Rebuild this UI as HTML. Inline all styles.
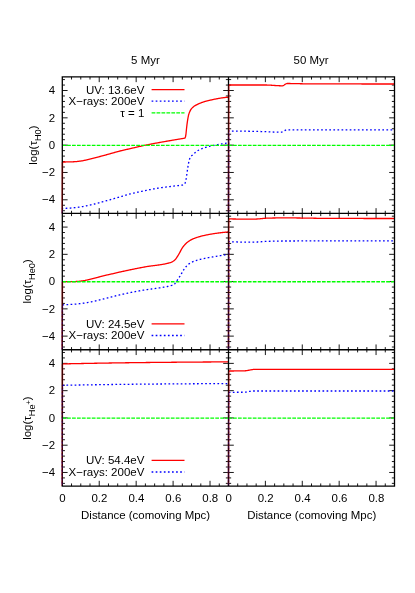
<!DOCTYPE html>
<html><head><meta charset="utf-8"><title>Optical depth</title>
<style>html,body{margin:0;padding:0;background:#fff}body{width:415px;height:593px;overflow:hidden;font-family:"Liberation Sans",sans-serif}</style>
</head><body>
<svg width="415" height="593" viewBox="0 0 415 593" style="display:block;font-family:'Liberation Sans',sans-serif;font-size:11.45px" fill="#000">
<rect width="415" height="593" fill="#fff"/>
<path d="M71.53 213.45v-2.65M71.53 76.85v2.65M80.77 213.45v-2.65M80.77 76.85v2.65M90.00 213.45v-2.65M90.00 76.85v2.65M99.23 213.45v-5.3M99.23 76.85v5.3M108.47 213.45v-2.65M108.47 76.85v2.65M117.70 213.45v-2.65M117.70 76.85v2.65M126.93 213.45v-2.65M126.93 76.85v2.65M136.17 213.45v-5.3M136.17 76.85v5.3M145.40 213.45v-2.65M145.40 76.85v2.65M154.63 213.45v-2.65M154.63 76.85v2.65M163.87 213.45v-2.65M163.87 76.85v2.65M173.10 213.45v-5.3M173.10 76.85v5.3M182.33 213.45v-2.65M182.33 76.85v2.65M191.57 213.45v-2.65M191.57 76.85v2.65M200.80 213.45v-2.65M200.80 76.85v2.65M210.03 213.45v-5.3M210.03 76.85v5.3M219.27 213.45v-2.65M219.27 76.85v2.65M62.30 210.72h2.65M228.50 210.72h-2.65M62.30 205.25h2.65M228.50 205.25h-2.65M62.30 199.79h5.3M228.50 199.79h-5.3M62.30 194.33h2.65M228.50 194.33h-2.65M62.30 188.86h2.65M228.50 188.86h-2.65M62.30 183.40h2.65M228.50 183.40h-2.65M62.30 177.93h2.65M228.50 177.93h-2.65M62.30 172.47h5.3M228.50 172.47h-5.3M62.30 167.01h2.65M228.50 167.01h-2.65M62.30 161.54h2.65M228.50 161.54h-2.65M62.30 156.08h2.65M228.50 156.08h-2.65M62.30 150.61h2.65M228.50 150.61h-2.65M62.30 145.15h5.3M228.50 145.15h-5.3M62.30 139.69h2.65M228.50 139.69h-2.65M62.30 134.22h2.65M228.50 134.22h-2.65M62.30 128.76h2.65M228.50 128.76h-2.65M62.30 123.29h2.65M228.50 123.29h-2.65M62.30 117.83h5.3M228.50 117.83h-5.3M62.30 112.37h2.65M228.50 112.37h-2.65M62.30 106.90h2.65M228.50 106.90h-2.65M62.30 101.44h2.65M228.50 101.44h-2.65M62.30 95.97h2.65M228.50 95.97h-2.65M62.30 90.51h5.3M228.50 90.51h-5.3M62.30 85.05h2.65M228.50 85.05h-2.65M62.30 79.58h2.65M228.50 79.58h-2.65M237.72 213.45v-2.65M237.72 76.85v2.65M246.94 213.45v-2.65M246.94 76.85v2.65M256.17 213.45v-2.65M256.17 76.85v2.65M265.39 213.45v-5.3M265.39 76.85v5.3M274.61 213.45v-2.65M274.61 76.85v2.65M283.83 213.45v-2.65M283.83 76.85v2.65M293.06 213.45v-2.65M293.06 76.85v2.65M302.28 213.45v-5.3M302.28 76.85v5.3M311.50 213.45v-2.65M311.50 76.85v2.65M320.72 213.45v-2.65M320.72 76.85v2.65M329.94 213.45v-2.65M329.94 76.85v2.65M339.17 213.45v-5.3M339.17 76.85v5.3M348.39 213.45v-2.65M348.39 76.85v2.65M357.61 213.45v-2.65M357.61 76.85v2.65M366.83 213.45v-2.65M366.83 76.85v2.65M376.06 213.45v-5.3M376.06 76.85v5.3M385.28 213.45v-2.65M385.28 76.85v2.65M228.50 210.72h2.65M394.50 210.72h-2.65M228.50 205.25h2.65M394.50 205.25h-2.65M228.50 199.79h5.3M394.50 199.79h-5.3M228.50 194.33h2.65M394.50 194.33h-2.65M228.50 188.86h2.65M394.50 188.86h-2.65M228.50 183.40h2.65M394.50 183.40h-2.65M228.50 177.93h2.65M394.50 177.93h-2.65M228.50 172.47h5.3M394.50 172.47h-5.3M228.50 167.01h2.65M394.50 167.01h-2.65M228.50 161.54h2.65M394.50 161.54h-2.65M228.50 156.08h2.65M394.50 156.08h-2.65M228.50 150.61h2.65M394.50 150.61h-2.65M228.50 145.15h5.3M394.50 145.15h-5.3M228.50 139.69h2.65M394.50 139.69h-2.65M228.50 134.22h2.65M394.50 134.22h-2.65M228.50 128.76h2.65M394.50 128.76h-2.65M228.50 123.29h2.65M394.50 123.29h-2.65M228.50 117.83h5.3M394.50 117.83h-5.3M228.50 112.37h2.65M394.50 112.37h-2.65M228.50 106.90h2.65M394.50 106.90h-2.65M228.50 101.44h2.65M394.50 101.44h-2.65M228.50 95.97h2.65M394.50 95.97h-2.65M228.50 90.51h5.3M394.50 90.51h-5.3M228.50 85.05h2.65M394.50 85.05h-2.65M228.50 79.58h2.65M394.50 79.58h-2.65M71.53 349.75v-2.65M71.53 213.45v2.65M80.77 349.75v-2.65M80.77 213.45v2.65M90.00 349.75v-2.65M90.00 213.45v2.65M99.23 349.75v-5.3M99.23 213.45v5.3M108.47 349.75v-2.65M108.47 213.45v2.65M117.70 349.75v-2.65M117.70 213.45v2.65M126.93 349.75v-2.65M126.93 213.45v2.65M136.17 349.75v-5.3M136.17 213.45v5.3M145.40 349.75v-2.65M145.40 213.45v2.65M154.63 349.75v-2.65M154.63 213.45v2.65M163.87 349.75v-2.65M163.87 213.45v2.65M173.10 349.75v-5.3M173.10 213.45v5.3M182.33 349.75v-2.65M182.33 213.45v2.65M191.57 349.75v-2.65M191.57 213.45v2.65M200.80 349.75v-2.65M200.80 213.45v2.65M210.03 349.75v-5.3M210.03 213.45v5.3M219.27 349.75v-2.65M219.27 213.45v2.65M62.30 347.02h2.65M228.50 347.02h-2.65M62.30 341.57h2.65M228.50 341.57h-2.65M62.30 336.12h5.3M228.50 336.12h-5.3M62.30 330.67h2.65M228.50 330.67h-2.65M62.30 325.22h2.65M228.50 325.22h-2.65M62.30 319.76h2.65M228.50 319.76h-2.65M62.30 314.31h2.65M228.50 314.31h-2.65M62.30 308.86h5.3M228.50 308.86h-5.3M62.30 303.41h2.65M228.50 303.41h-2.65M62.30 297.96h2.65M228.50 297.96h-2.65M62.30 292.50h2.65M228.50 292.50h-2.65M62.30 287.05h2.65M228.50 287.05h-2.65M62.30 281.60h5.3M228.50 281.60h-5.3M62.30 276.15h2.65M228.50 276.15h-2.65M62.30 270.70h2.65M228.50 270.70h-2.65M62.30 265.24h2.65M228.50 265.24h-2.65M62.30 259.79h2.65M228.50 259.79h-2.65M62.30 254.34h5.3M228.50 254.34h-5.3M62.30 248.89h2.65M228.50 248.89h-2.65M62.30 243.44h2.65M228.50 243.44h-2.65M62.30 237.98h2.65M228.50 237.98h-2.65M62.30 232.53h2.65M228.50 232.53h-2.65M62.30 227.08h5.3M228.50 227.08h-5.3M62.30 221.63h2.65M228.50 221.63h-2.65M62.30 216.18h2.65M228.50 216.18h-2.65M237.72 349.75v-2.65M237.72 213.45v2.65M246.94 349.75v-2.65M246.94 213.45v2.65M256.17 349.75v-2.65M256.17 213.45v2.65M265.39 349.75v-5.3M265.39 213.45v5.3M274.61 349.75v-2.65M274.61 213.45v2.65M283.83 349.75v-2.65M283.83 213.45v2.65M293.06 349.75v-2.65M293.06 213.45v2.65M302.28 349.75v-5.3M302.28 213.45v5.3M311.50 349.75v-2.65M311.50 213.45v2.65M320.72 349.75v-2.65M320.72 213.45v2.65M329.94 349.75v-2.65M329.94 213.45v2.65M339.17 349.75v-5.3M339.17 213.45v5.3M348.39 349.75v-2.65M348.39 213.45v2.65M357.61 349.75v-2.65M357.61 213.45v2.65M366.83 349.75v-2.65M366.83 213.45v2.65M376.06 349.75v-5.3M376.06 213.45v5.3M385.28 349.75v-2.65M385.28 213.45v2.65M228.50 347.02h2.65M394.50 347.02h-2.65M228.50 341.57h2.65M394.50 341.57h-2.65M228.50 336.12h5.3M394.50 336.12h-5.3M228.50 330.67h2.65M394.50 330.67h-2.65M228.50 325.22h2.65M394.50 325.22h-2.65M228.50 319.76h2.65M394.50 319.76h-2.65M228.50 314.31h2.65M394.50 314.31h-2.65M228.50 308.86h5.3M394.50 308.86h-5.3M228.50 303.41h2.65M394.50 303.41h-2.65M228.50 297.96h2.65M394.50 297.96h-2.65M228.50 292.50h2.65M394.50 292.50h-2.65M228.50 287.05h2.65M394.50 287.05h-2.65M228.50 281.60h5.3M394.50 281.60h-5.3M228.50 276.15h2.65M394.50 276.15h-2.65M228.50 270.70h2.65M394.50 270.70h-2.65M228.50 265.24h2.65M394.50 265.24h-2.65M228.50 259.79h2.65M394.50 259.79h-2.65M228.50 254.34h5.3M394.50 254.34h-5.3M228.50 248.89h2.65M394.50 248.89h-2.65M228.50 243.44h2.65M394.50 243.44h-2.65M228.50 237.98h2.65M394.50 237.98h-2.65M228.50 232.53h2.65M394.50 232.53h-2.65M228.50 227.08h5.3M394.50 227.08h-5.3M228.50 221.63h2.65M394.50 221.63h-2.65M228.50 216.18h2.65M394.50 216.18h-2.65M71.53 486.10v-2.65M71.53 349.75v2.65M80.77 486.10v-2.65M80.77 349.75v2.65M90.00 486.10v-2.65M90.00 349.75v2.65M99.23 486.10v-5.3M99.23 349.75v5.3M108.47 486.10v-2.65M108.47 349.75v2.65M117.70 486.10v-2.65M117.70 349.75v2.65M126.93 486.10v-2.65M126.93 349.75v2.65M136.17 486.10v-5.3M136.17 349.75v5.3M145.40 486.10v-2.65M145.40 349.75v2.65M154.63 486.10v-2.65M154.63 349.75v2.65M163.87 486.10v-2.65M163.87 349.75v2.65M173.10 486.10v-5.3M173.10 349.75v5.3M182.33 486.10v-2.65M182.33 349.75v2.65M191.57 486.10v-2.65M191.57 349.75v2.65M200.80 486.10v-2.65M200.80 349.75v2.65M210.03 486.10v-5.3M210.03 349.75v5.3M219.27 486.10v-2.65M219.27 349.75v2.65M62.30 483.37h2.65M228.50 483.37h-2.65M62.30 477.92h2.65M228.50 477.92h-2.65M62.30 472.47h5.3M228.50 472.47h-5.3M62.30 467.01h2.65M228.50 467.01h-2.65M62.30 461.56h2.65M228.50 461.56h-2.65M62.30 456.10h2.65M228.50 456.10h-2.65M62.30 450.65h2.65M228.50 450.65h-2.65M62.30 445.19h5.3M228.50 445.19h-5.3M62.30 439.74h2.65M228.50 439.74h-2.65M62.30 434.29h2.65M228.50 434.29h-2.65M62.30 428.83h2.65M228.50 428.83h-2.65M62.30 423.38h2.65M228.50 423.38h-2.65M62.30 417.93h5.3M228.50 417.93h-5.3M62.30 412.47h2.65M228.50 412.47h-2.65M62.30 407.02h2.65M228.50 407.02h-2.65M62.30 401.56h2.65M228.50 401.56h-2.65M62.30 396.11h2.65M228.50 396.11h-2.65M62.30 390.66h5.3M228.50 390.66h-5.3M62.30 385.20h2.65M228.50 385.20h-2.65M62.30 379.75h2.65M228.50 379.75h-2.65M62.30 374.29h2.65M228.50 374.29h-2.65M62.30 368.84h2.65M228.50 368.84h-2.65M62.30 363.38h5.3M228.50 363.38h-5.3M62.30 357.93h2.65M228.50 357.93h-2.65M62.30 352.48h2.65M228.50 352.48h-2.65M237.72 486.10v-2.65M237.72 349.75v2.65M246.94 486.10v-2.65M246.94 349.75v2.65M256.17 486.10v-2.65M256.17 349.75v2.65M265.39 486.10v-5.3M265.39 349.75v5.3M274.61 486.10v-2.65M274.61 349.75v2.65M283.83 486.10v-2.65M283.83 349.75v2.65M293.06 486.10v-2.65M293.06 349.75v2.65M302.28 486.10v-5.3M302.28 349.75v5.3M311.50 486.10v-2.65M311.50 349.75v2.65M320.72 486.10v-2.65M320.72 349.75v2.65M329.94 486.10v-2.65M329.94 349.75v2.65M339.17 486.10v-5.3M339.17 349.75v5.3M348.39 486.10v-2.65M348.39 349.75v2.65M357.61 486.10v-2.65M357.61 349.75v2.65M366.83 486.10v-2.65M366.83 349.75v2.65M376.06 486.10v-5.3M376.06 349.75v5.3M385.28 486.10v-2.65M385.28 349.75v2.65M228.50 483.37h2.65M394.50 483.37h-2.65M228.50 477.92h2.65M394.50 477.92h-2.65M228.50 472.47h5.3M394.50 472.47h-5.3M228.50 467.01h2.65M394.50 467.01h-2.65M228.50 461.56h2.65M394.50 461.56h-2.65M228.50 456.10h2.65M394.50 456.10h-2.65M228.50 450.65h2.65M394.50 450.65h-2.65M228.50 445.19h5.3M394.50 445.19h-5.3M228.50 439.74h2.65M394.50 439.74h-2.65M228.50 434.29h2.65M394.50 434.29h-2.65M228.50 428.83h2.65M394.50 428.83h-2.65M228.50 423.38h2.65M394.50 423.38h-2.65M228.50 417.93h5.3M394.50 417.93h-5.3M228.50 412.47h2.65M394.50 412.47h-2.65M228.50 407.02h2.65M394.50 407.02h-2.65M228.50 401.56h2.65M394.50 401.56h-2.65M228.50 396.11h2.65M394.50 396.11h-2.65M228.50 390.66h5.3M394.50 390.66h-5.3M228.50 385.20h2.65M394.50 385.20h-2.65M228.50 379.75h2.65M394.50 379.75h-2.65M228.50 374.29h2.65M394.50 374.29h-2.65M228.50 368.84h2.65M394.50 368.84h-2.65M228.50 363.38h5.3M394.50 363.38h-5.3M228.50 357.93h2.65M394.50 357.93h-2.65M228.50 352.48h2.65M394.50 352.48h-2.65" fill="none" stroke="#000" stroke-width="0.9"/>
<path d="M62.30 213.45L62.50 208.40 63.00 208.39 63.50 208.38 64.00 208.37 64.50 208.35 65.00 208.33 65.50 208.31 66.00 208.29 66.50 208.27 67.00 208.25 67.50 208.22 68.00 208.20 68.50 208.17 69.00 208.14 69.50 208.11 70.00 208.08 70.50 208.04 71.00 208.00 71.50 207.96 72.00 207.92 72.50 207.87 73.00 207.83 73.50 207.78 74.00 207.73 74.50 207.68 75.00 207.63 75.50 207.57 76.00 207.52 76.50 207.46 77.00 207.40 77.50 207.34 78.00 207.27 78.50 207.20 79.00 207.13 79.50 207.06 80.00 206.99 80.50 206.91 81.00 206.84 81.50 206.76 82.00 206.68 82.50 206.60 83.00 206.52 83.50 206.43 84.00 206.33 84.50 206.24 85.00 206.14 85.50 206.04 86.00 205.93 86.50 205.82 87.00 205.71 87.50 205.60 88.00 205.49 88.50 205.38 89.00 205.27 89.50 205.16 90.00 205.04 90.50 204.93 91.00 204.82 91.50 204.71 92.00 204.60 92.50 204.48 93.00 204.36 93.50 204.24 94.00 204.12 94.50 204.00 95.00 203.88 95.50 203.75 96.00 203.62 96.50 203.49 97.00 203.36 97.50 203.22 98.00 203.09 98.50 202.95 99.00 202.82 99.50 202.68 100.00 202.54 100.50 202.40 101.00 202.27 101.50 202.13 102.00 201.99 102.50 201.85 103.00 201.71 103.50 201.57 104.00 201.43 104.50 201.30 105.00 201.16 105.50 201.02 106.00 200.88 106.50 200.74 107.00 200.60 107.50 200.46 108.00 200.32 108.50 200.18 109.00 200.04 109.50 199.90 110.00 199.76 110.50 199.62 111.00 199.48 111.50 199.34 112.00 199.19 112.50 199.05 113.00 198.91 113.50 198.77 114.00 198.62 114.50 198.48 115.00 198.34 115.50 198.20 116.00 198.05 116.50 197.91 117.00 197.77 117.50 197.62 118.00 197.48 118.50 197.33 119.00 197.19 119.50 197.04 120.00 196.90 120.50 196.75 121.00 196.61 121.50 196.46 122.00 196.30 122.50 196.15 123.00 196.00 123.50 195.84 124.00 195.69 124.50 195.54 125.00 195.38 125.50 195.23 126.00 195.08 126.50 194.93 127.00 194.79 127.50 194.64 128.00 194.50 128.50 194.36 129.00 194.23 129.50 194.10 130.00 193.97 130.50 193.85 131.00 193.72 131.50 193.60 132.00 193.48 132.50 193.36 133.00 193.24 133.50 193.13 134.00 193.01 134.50 192.90 135.00 192.79 135.50 192.68 136.00 192.56 136.50 192.46 137.00 192.35 137.50 192.24 138.00 192.13 138.50 192.02 139.00 191.92 139.50 191.81 140.00 191.71 140.50 191.60 141.00 191.50 141.50 191.40 142.00 191.29 142.50 191.19 143.00 191.09 143.50 190.98 144.00 190.88 144.50 190.78 145.00 190.67 145.50 190.57 146.00 190.46 146.50 190.36 147.00 190.26 147.50 190.15 148.00 190.05 148.50 189.95 149.00 189.85 149.50 189.74 150.00 189.64 150.50 189.54 151.00 189.44 151.50 189.34 152.00 189.24 152.50 189.15 153.00 189.05 153.50 188.96 154.00 188.86 154.50 188.77 155.00 188.68 155.50 188.59 156.00 188.50 156.50 188.41 157.00 188.33 157.50 188.25 158.00 188.16 158.50 188.08 159.00 188.01 159.50 187.93 160.00 187.86 160.50 187.78 161.00 187.71 161.50 187.64 162.00 187.57 162.50 187.50 163.00 187.43 163.50 187.37 164.00 187.30 164.50 187.24 165.00 187.17 165.50 187.11 166.00 187.05 166.50 186.98 167.00 186.92 167.50 186.86 168.00 186.80 168.50 186.74 169.00 186.67 169.50 186.61 170.00 186.55 170.50 186.49 171.00 186.42 171.50 186.36 172.00 186.30 172.50 186.23 173.00 186.17 173.50 186.10 174.00 186.04 174.50 185.97 175.00 185.90 175.50 185.84 176.00 185.78 176.50 185.73 177.00 185.69 177.50 185.64 178.00 185.60 178.50 185.56 179.00 185.52 179.50 185.48 180.00 185.43 180.50 185.37 181.00 185.30 181.50 185.23 182.00 185.14 182.50 185.04 183.00 184.92 183.50 184.79 184.00 184.63 184.50 184.27 185.00 183.38 185.50 182.10 186.00 180.13 186.50 176.59 187.00 173.05 187.50 169.62 188.00 166.27 188.50 163.50 189.00 161.25 189.50 159.32 190.00 158.00 190.50 157.16 191.00 156.47 191.50 155.90 192.00 155.40 192.50 154.96 193.00 154.54 193.50 154.10 194.00 153.65 194.50 153.21 195.00 152.78 195.50 152.37 196.00 151.97 196.50 151.59 197.00 151.22 197.50 150.88 198.00 150.56 198.50 150.27 199.00 150.00 199.50 149.75 200.00 149.51 200.50 149.28 201.00 149.06 201.50 148.85 202.00 148.64 202.50 148.44 203.00 148.26 203.50 148.07 204.00 147.90 204.50 147.73 205.00 147.57 205.50 147.41 206.00 147.26 206.50 147.11 207.00 146.97 207.50 146.83 208.00 146.69 208.50 146.56 209.00 146.44 209.50 146.32 210.00 146.20 210.50 146.09 211.00 145.98 211.50 145.87 212.00 145.77 212.50 145.67 213.00 145.57 213.50 145.47 214.00 145.37 214.50 145.28 215.00 145.18 215.50 145.09 216.00 144.99 216.50 144.90 217.00 144.80 217.50 144.70 218.00 144.61 218.50 144.51 219.00 144.42 219.50 144.33 220.00 144.24 220.50 144.14 221.00 144.05 221.50 143.96 222.00 143.88 222.50 143.79 223.00 143.70 223.50 143.61 224.00 143.53 224.50 143.44 225.00 143.36 225.50 143.28 226.00 143.19 226.50 143.11 227.00 143.03 227.50 142.95 228.00 142.88 228.50 142.80" stroke="#0000ff" stroke-width="1.3" fill="none" stroke-linejoin="round" stroke-dasharray="1.7 2.38"/>
<path d="M62.30 213.45L62.50 162.00 63.00 162.00 63.50 162.00 64.00 161.99 64.50 161.99 65.00 161.99 65.50 161.98 66.00 161.97 66.50 161.97 67.00 161.96 67.50 161.95 68.00 161.94 68.50 161.93 69.00 161.92 69.50 161.91 70.00 161.90 70.50 161.89 71.00 161.87 71.50 161.85 72.00 161.83 72.50 161.81 73.00 161.79 73.50 161.76 74.00 161.73 74.50 161.70 75.00 161.67 75.50 161.63 76.00 161.59 76.50 161.54 77.00 161.50 77.50 161.44 78.00 161.39 78.50 161.33 79.00 161.27 79.50 161.21 80.00 161.14 80.50 161.07 81.00 161.00 81.50 160.93 82.00 160.85 82.50 160.77 83.00 160.68 83.50 160.58 84.00 160.47 84.50 160.36 85.00 160.25 85.50 160.13 86.00 160.01 86.50 159.89 87.00 159.76 87.50 159.64 88.00 159.52 88.50 159.40 89.00 159.28 89.50 159.16 90.00 159.04 90.50 158.92 91.00 158.79 91.50 158.67 92.00 158.54 92.50 158.42 93.00 158.29 93.50 158.16 94.00 158.04 94.50 157.91 95.00 157.78 95.50 157.65 96.00 157.53 96.50 157.40 97.00 157.27 97.50 157.14 98.00 157.01 98.50 156.89 99.00 156.76 99.50 156.63 100.00 156.50 100.50 156.37 101.00 156.24 101.50 156.11 102.00 155.97 102.50 155.84 103.00 155.71 103.50 155.57 104.00 155.44 104.50 155.30 105.00 155.16 105.50 155.03 106.00 154.89 106.50 154.75 107.00 154.61 107.50 154.47 108.00 154.33 108.50 154.19 109.00 154.05 109.50 153.91 110.00 153.77 110.50 153.63 111.00 153.49 111.50 153.35 112.00 153.21 112.50 153.07 113.00 152.92 113.50 152.78 114.00 152.64 114.50 152.50 115.00 152.36 115.50 152.21 116.00 152.07 116.50 151.93 117.00 151.80 117.50 151.66 118.00 151.52 118.50 151.39 119.00 151.26 119.50 151.13 120.00 151.00 120.50 150.87 121.00 150.75 121.50 150.63 122.00 150.51 122.50 150.39 123.00 150.27 123.50 150.16 124.00 150.04 124.50 149.93 125.00 149.82 125.50 149.70 126.00 149.59 126.50 149.48 127.00 149.37 127.50 149.25 128.00 149.14 128.50 149.03 129.00 148.91 129.50 148.80 130.00 148.69 130.50 148.57 131.00 148.45 131.50 148.34 132.00 148.22 132.50 148.11 133.00 147.99 133.50 147.87 134.00 147.76 134.50 147.64 135.00 147.52 135.50 147.41 136.00 147.29 136.50 147.18 137.00 147.06 137.50 146.95 138.00 146.83 138.50 146.72 139.00 146.60 139.50 146.49 140.00 146.37 140.50 146.26 141.00 146.15 141.50 146.04 142.00 145.93 142.50 145.82 143.00 145.71 143.50 145.60 144.00 145.49 144.50 145.39 145.00 145.28 145.50 145.18 146.00 145.08 146.50 144.97 147.00 144.87 147.50 144.77 148.00 144.67 148.50 144.57 149.00 144.47 149.50 144.37 150.00 144.28 150.50 144.18 151.00 144.08 151.50 143.99 152.00 143.89 152.50 143.80 153.00 143.70 153.50 143.61 154.00 143.51 154.50 143.42 155.00 143.33 155.50 143.23 156.00 143.14 156.50 143.05 157.00 142.96 157.50 142.87 158.00 142.77 158.50 142.68 159.00 142.59 159.50 142.50 160.00 142.41 160.50 142.32 161.00 142.23 161.50 142.14 162.00 142.05 162.50 141.96 163.00 141.87 163.50 141.78 164.00 141.70 164.50 141.61 165.00 141.52 165.50 141.43 166.00 141.35 166.50 141.26 167.00 141.17 167.50 141.09 168.00 141.00 168.50 140.92 169.00 140.83 169.50 140.74 170.00 140.66 170.50 140.57 171.00 140.49 171.50 140.40 172.00 140.32 172.50 140.23 173.00 140.14 173.50 140.06 174.00 139.97 174.50 139.89 175.00 139.80 175.50 139.71 176.00 139.63 176.50 139.54 177.00 139.46 177.50 139.37 178.00 139.29 178.50 139.20 179.00 139.12 179.50 139.03 180.00 138.95 180.50 138.86 181.00 138.78 181.50 138.69 182.00 138.61 182.50 138.52 183.00 138.44 183.50 138.35 184.00 138.27 184.50 138.18 185.00 138.10L185.50 136.87 186.00 133.79 186.50 128.69 187.00 124.40 187.50 120.94 188.00 117.81 188.50 115.29 189.00 113.61 189.50 112.28 190.00 111.14 190.50 110.16 191.00 109.34 191.50 108.66 192.00 108.10 192.50 107.60 193.00 107.15 193.50 106.73 194.00 106.34 194.50 105.99 195.00 105.66 195.50 105.36 196.00 105.08 196.50 104.81 197.00 104.56 197.50 104.32 198.00 104.09 198.50 103.87 199.00 103.65 199.50 103.43 200.00 103.23 200.50 103.03 201.00 102.83 201.50 102.65 202.00 102.47 202.50 102.29 203.00 102.12 203.50 101.95 204.00 101.79 204.50 101.64 205.00 101.49 205.50 101.34 206.00 101.20 206.50 101.07 207.00 100.93 207.50 100.81 208.00 100.68 208.50 100.56 209.00 100.45 209.50 100.33 210.00 100.22 210.50 100.11 211.00 100.00 211.50 99.88 212.00 99.78 212.50 99.67 213.00 99.56 213.50 99.45 214.00 99.35 214.50 99.24 215.00 99.14 215.50 99.04 216.00 98.94 216.50 98.84 217.00 98.74 217.50 98.65 218.00 98.56 218.50 98.47 219.00 98.38 219.50 98.29 220.00 98.21 220.50 98.13 221.00 98.05 221.50 97.97 222.00 97.89 222.50 97.82 223.00 97.75 223.50 97.69 224.00 97.62 224.50 97.56 225.00 97.51 225.50 97.45 226.00 97.40 226.50 97.35 227.00 97.31 227.50 97.27 228.00 97.23 228.50 97.20" stroke="#ff0000" stroke-width="1.3" fill="none" stroke-linejoin="round"/>
<path d="M228.50 213.45L228.70 131.00 229.20 131.00 229.70 131.01 230.20 131.01 230.70 131.01 231.20 131.02 231.70 131.02 232.20 131.03 232.70 131.03 233.20 131.03 233.70 131.04 234.20 131.04 234.70 131.05 235.20 131.05 235.70 131.06 236.20 131.07 236.70 131.07 237.20 131.08 237.70 131.08 238.20 131.09 238.70 131.10 239.20 131.11 239.70 131.11 240.20 131.12 240.70 131.13 241.20 131.13 241.70 131.14 242.20 131.15 242.70 131.16 243.20 131.17 243.70 131.17 244.20 131.18 244.70 131.19 245.20 131.20 245.70 131.21 246.20 131.22 246.70 131.23 247.20 131.24 247.70 131.25 248.20 131.25 248.70 131.26 249.20 131.27 249.70 131.28 250.20 131.29 250.70 131.30 251.20 131.31 251.70 131.32 252.20 131.33 252.70 131.34 253.20 131.35 253.70 131.36 254.20 131.37 254.70 131.39 255.20 131.40 255.70 131.41 256.20 131.42 256.70 131.43 257.20 131.44 257.70 131.45 258.20 131.46 258.70 131.47 259.20 131.48 259.70 131.49 260.20 131.50 260.70 131.52 261.20 131.53 261.70 131.54 262.20 131.56 262.70 131.58 263.20 131.59 263.70 131.61 264.20 131.63 264.70 131.65 265.20 131.67 265.70 131.69 266.20 131.72 266.70 131.74 267.20 131.76 267.70 131.78 268.20 131.80 268.70 131.83 269.20 131.85 269.70 131.87 270.20 131.89 270.70 131.92 271.20 131.94 271.70 131.96 272.20 131.98 272.70 132.00 273.20 132.02 273.70 132.04 274.20 132.06 274.70 132.08 275.20 132.09 275.70 132.11 276.20 132.13 276.70 132.14 277.20 132.15 277.70 132.16 278.20 132.17 278.70 132.18 279.20 132.19 279.70 132.19 280.20 132.20 280.70 132.20 281.20 132.19 281.70 132.11 282.20 131.95 282.70 131.73 283.20 131.47 283.70 131.18 284.20 130.88 284.70 130.59 285.20 130.32 285.70 130.09 286.20 129.92 286.70 129.82 287.20 129.80 287.70 129.80 288.20 129.80 288.70 129.80 289.20 129.80 289.70 129.80 290.20 129.80 290.70 129.80 291.20 129.80 291.70 129.80 292.20 129.80 292.70 129.80 293.20 129.80 293.70 129.80 294.20 129.80 294.70 129.80 295.20 129.80 295.70 129.80 296.20 129.80 296.70 129.80 297.20 129.80 297.70 129.80 298.20 129.80 298.70 129.80 299.20 129.80 299.70 129.80 300.20 129.80 300.70 129.80 301.20 129.80 301.70 129.80 302.20 129.80 302.70 129.80 303.20 129.80 303.70 129.80 304.20 129.80 304.70 129.80 305.20 129.80 305.70 129.80 306.20 129.80 306.70 129.80 307.20 129.80 307.70 129.80 308.20 129.80 308.70 129.80 309.20 129.80 309.70 129.80 310.20 129.80 310.70 129.80 311.20 129.80 311.70 129.80 312.20 129.80 312.70 129.80 313.20 129.80 313.70 129.80 314.20 129.80 314.70 129.80 315.20 129.80 315.70 129.80 316.20 129.80 316.70 129.80 317.20 129.80 317.70 129.80 318.20 129.80 318.70 129.80 319.20 129.80 319.70 129.80 320.20 129.80 320.70 129.80 321.20 129.80 321.70 129.80 322.20 129.80 322.70 129.80 323.20 129.80 323.70 129.80 324.20 129.80 324.70 129.80 325.20 129.80 325.70 129.80 326.20 129.80 326.70 129.81 327.20 129.81 327.70 129.81 328.20 129.81 328.70 129.81 329.20 129.81 329.70 129.81 330.20 129.81 330.70 129.81 331.20 129.81 331.70 129.81 332.20 129.81 332.70 129.81 333.20 129.81 333.70 129.81 334.20 129.81 334.70 129.81 335.20 129.81 335.70 129.81 336.20 129.81 336.70 129.81 337.20 129.81 337.70 129.81 338.20 129.81 338.70 129.81 339.20 129.81 339.70 129.81 340.20 129.81 340.70 129.81 341.20 129.81 341.70 129.81 342.20 129.81 342.70 129.81 343.20 129.81 343.70 129.81 344.20 129.82 344.70 129.82 345.20 129.82 345.70 129.82 346.20 129.82 346.70 129.82 347.20 129.82 347.70 129.82 348.20 129.82 348.70 129.82 349.20 129.82 349.70 129.82 350.20 129.82 350.70 129.82 351.20 129.82 351.70 129.82 352.20 129.82 352.70 129.82 353.20 129.82 353.70 129.82 354.20 129.82 354.70 129.82 355.20 129.83 355.70 129.83 356.20 129.83 356.70 129.83 357.20 129.83 357.70 129.83 358.20 129.83 358.70 129.83 359.20 129.83 359.70 129.83 360.20 129.83 360.70 129.83 361.20 129.83 361.70 129.83 362.20 129.83 362.70 129.83 363.20 129.84 363.70 129.84 364.20 129.84 364.70 129.84 365.20 129.84 365.70 129.84 366.20 129.84 366.70 129.84 367.20 129.84 367.70 129.84 368.20 129.84 368.70 129.84 369.20 129.84 369.70 129.85 370.20 129.85 370.70 129.85 371.20 129.85 371.70 129.85 372.20 129.85 372.70 129.85 373.20 129.85 373.70 129.85 374.20 129.85 374.70 129.85 375.20 129.86 375.70 129.86 376.20 129.86 376.70 129.86 377.20 129.86 377.70 129.86 378.20 129.86 378.70 129.86 379.20 129.86 379.70 129.86 380.20 129.87 380.70 129.87 381.20 129.87 381.70 129.87 382.20 129.87 382.70 129.87 383.20 129.87 383.70 129.87 384.20 129.87 384.70 129.88 385.20 129.88 385.70 129.88 386.20 129.88 386.70 129.88 387.20 129.88 387.70 129.88 388.20 129.88 388.70 129.88 389.20 129.89 389.70 129.89 390.20 129.89 390.70 129.89 391.20 129.89 391.70 129.89 392.20 129.89 392.70 129.90 393.20 129.90 393.70 129.90 394.20 129.90 394.50 129.90" stroke="#0000ff" stroke-width="1.3" fill="none" stroke-linejoin="round" stroke-dasharray="1.7 2.38"/>
<path d="M228.50 213.45L228.70 85.00 229.20 85.00 229.70 85.00 230.20 85.00 230.70 85.00 231.20 85.00 231.70 85.00 232.20 85.00 232.70 85.00 233.20 85.00 233.70 85.00 234.20 85.00 234.70 85.00 235.20 85.00 235.70 85.00 236.20 85.00 236.70 85.00 237.20 85.00 237.70 85.00 238.20 85.00 238.70 85.00 239.20 85.00 239.70 85.00 240.20 85.00 240.70 85.00 241.20 85.00 241.70 85.00 242.20 85.00 242.70 85.00 243.20 85.00 243.70 85.00 244.20 85.00 244.70 85.00 245.20 85.00 245.70 85.00 246.20 85.00 246.70 85.00 247.20 85.00 247.70 85.00 248.20 85.00 248.70 85.00 249.20 85.00 249.70 85.00 250.20 85.00 250.70 85.00 251.20 85.00 251.70 85.00 252.20 85.00 252.70 85.00 253.20 85.00 253.70 85.00 254.20 85.00 254.70 85.00 255.20 85.00 255.70 85.00 256.20 85.00 256.70 85.00 257.20 85.00 257.70 85.00 258.20 85.00 258.70 85.00 259.20 85.00 259.70 85.00 260.20 85.00 260.70 85.00 261.20 85.00 261.70 85.00 262.20 85.00 262.70 85.00 263.20 85.00 263.70 85.00 264.20 85.00 264.70 85.00 265.20 85.00 265.70 85.00 266.20 85.01 266.70 85.02 267.20 85.04 267.70 85.05 268.20 85.07 268.70 85.10 269.20 85.12 269.70 85.15 270.20 85.18 270.70 85.21 271.20 85.24 271.70 85.27 272.20 85.30 272.70 85.34 273.20 85.37 273.70 85.41 274.20 85.44 274.70 85.48 275.20 85.51 275.70 85.54 276.20 85.58 276.70 85.61 277.20 85.64 277.70 85.66 278.20 85.69 278.70 85.71 279.20 85.74 279.70 85.75 280.20 85.77 280.70 85.78 281.20 85.79 281.70 85.80 282.20 85.80 282.70 85.74 283.20 85.56 283.70 85.30 284.20 84.99 284.70 84.65 285.20 84.31 285.70 84.00 286.20 83.74 286.70 83.56 287.20 83.50 287.70 83.50 288.20 83.50 288.70 83.51 289.20 83.51 289.70 83.51 290.20 83.52 290.70 83.53 291.20 83.54 291.70 83.54 292.20 83.55 292.70 83.56 293.20 83.57 293.70 83.58 294.20 83.59 294.70 83.61 295.20 83.62 295.70 83.63 296.20 83.64 296.70 83.65 297.20 83.67 297.70 83.68 298.20 83.69 298.70 83.70 299.20 83.71 299.70 83.72 300.20 83.73 300.70 83.74 301.20 83.75 301.70 83.76 302.20 83.77 302.70 83.78 303.20 83.78 303.70 83.79 304.20 83.79 304.70 83.80 305.20 83.80 305.70 83.80 306.20 83.81 306.70 83.81 307.20 83.81 307.70 83.81 308.20 83.81 308.70 83.82 309.20 83.82 309.70 83.82 310.20 83.82 310.70 83.83 311.20 83.83 311.70 83.83 312.20 83.83 312.70 83.83 313.20 83.84 313.70 83.84 314.20 83.84 314.70 83.84 315.20 83.85 315.70 83.85 316.20 83.85 316.70 83.85 317.20 83.85 317.70 83.86 318.20 83.86 318.70 83.86 319.20 83.86 319.70 83.86 320.20 83.87 320.70 83.87 321.20 83.87 321.70 83.87 322.20 83.87 322.70 83.87 323.20 83.88 323.70 83.88 324.20 83.88 324.70 83.88 325.20 83.88 325.70 83.89 326.20 83.89 326.70 83.89 327.20 83.89 327.70 83.89 328.20 83.89 328.70 83.90 329.20 83.90 329.70 83.90 330.20 83.90 330.70 83.90 331.20 83.90 331.70 83.91 332.20 83.91 332.70 83.91 333.20 83.91 333.70 83.91 334.20 83.91 334.70 83.91 335.20 83.92 335.70 83.92 336.20 83.92 336.70 83.92 337.20 83.92 337.70 83.92 338.20 83.92 338.70 83.93 339.20 83.93 339.70 83.93 340.20 83.93 340.70 83.93 341.20 83.93 341.70 83.93 342.20 83.94 342.70 83.94 343.20 83.94 343.70 83.94 344.20 83.94 344.70 83.94 345.20 83.94 345.70 83.94 346.20 83.95 346.70 83.95 347.20 83.95 347.70 83.95 348.20 83.95 348.70 83.95 349.20 83.95 349.70 83.95 350.20 83.95 350.70 83.96 351.20 83.96 351.70 83.96 352.20 83.96 352.70 83.96 353.20 83.96 353.70 83.96 354.20 83.96 354.70 83.96 355.20 83.96 355.70 83.97 356.20 83.97 356.70 83.97 357.20 83.97 357.70 83.97 358.20 83.97 358.70 83.97 359.20 83.97 359.70 83.97 360.20 83.97 360.70 83.97 361.20 83.97 361.70 83.98 362.20 83.98 362.70 83.98 363.20 83.98 363.70 83.98 364.20 83.98 364.70 83.98 365.20 83.98 365.70 83.98 366.20 83.98 366.70 83.98 367.20 83.98 367.70 83.98 368.20 83.98 368.70 83.98 369.20 83.99 369.70 83.99 370.20 83.99 370.70 83.99 371.20 83.99 371.70 83.99 372.20 83.99 372.70 83.99 373.20 83.99 373.70 83.99 374.20 83.99 374.70 83.99 375.20 83.99 375.70 83.99 376.20 83.99 376.70 83.99 377.20 83.99 377.70 83.99 378.20 83.99 378.70 83.99 379.20 83.99 379.70 84.00 380.20 84.00 380.70 84.00 381.20 84.00 381.70 84.00 382.20 84.00 382.70 84.00 383.20 84.00 383.70 84.00 384.20 84.00 384.70 84.00 385.20 84.00 385.70 84.00 386.20 84.00 386.70 84.00 387.20 84.00 387.70 84.00 388.20 84.00 388.70 84.00 389.20 84.00 389.70 84.00 390.20 84.00 390.70 84.00 391.20 84.00 391.70 84.00 392.20 84.00 392.70 84.00 393.20 84.00 393.70 84.00 394.20 84.00 394.50 84.00" stroke="#ff0000" stroke-width="1.3" fill="none" stroke-linejoin="round"/>
<path d="M62.30 349.75L62.50 304.80 63.00 304.79 63.50 304.78 64.00 304.77 64.50 304.76 65.00 304.74 65.50 304.72 66.00 304.71 66.50 304.69 67.00 304.66 67.50 304.64 68.00 304.61 68.50 304.59 69.00 304.56 69.50 304.53 70.00 304.50 70.50 304.47 71.00 304.44 71.50 304.41 72.00 304.37 72.50 304.34 73.00 304.31 73.50 304.27 74.00 304.24 74.50 304.20 75.00 304.16 75.50 304.12 76.00 304.08 76.50 304.03 77.00 303.99 77.50 303.94 78.00 303.88 78.50 303.83 79.00 303.77 79.50 303.71 80.00 303.65 80.50 303.58 81.00 303.52 81.50 303.45 82.00 303.38 82.50 303.31 83.00 303.24 83.50 303.16 84.00 303.09 84.50 303.01 85.00 302.93 85.50 302.86 86.00 302.78 86.50 302.70 87.00 302.61 87.50 302.53 88.00 302.45 88.50 302.37 89.00 302.28 89.50 302.20 90.00 302.11 90.50 302.01 91.00 301.92 91.50 301.82 92.00 301.72 92.50 301.61 93.00 301.50 93.50 301.39 94.00 301.28 94.50 301.17 95.00 301.05 95.50 300.94 96.00 300.82 96.50 300.70 97.00 300.58 97.50 300.45 98.00 300.33 98.50 300.21 99.00 300.08 99.50 299.96 100.00 299.83 100.50 299.71 101.00 299.59 101.50 299.46 102.00 299.34 102.50 299.22 103.00 299.10 103.50 298.98 104.00 298.86 104.50 298.73 105.00 298.61 105.50 298.48 106.00 298.36 106.50 298.23 107.00 298.10 107.50 297.97 108.00 297.84 108.50 297.71 109.00 297.58 109.50 297.45 110.00 297.32 110.50 297.18 111.00 297.05 111.50 296.92 112.00 296.79 112.50 296.65 113.00 296.52 113.50 296.39 114.00 296.26 114.50 296.13 115.00 296.01 115.50 295.88 116.00 295.75 116.50 295.63 117.00 295.50 117.50 295.38 118.00 295.26 118.50 295.14 119.00 295.03 119.50 294.91 120.00 294.80 120.50 294.69 121.00 294.58 121.50 294.47 122.00 294.36 122.50 294.25 123.00 294.14 123.50 294.03 124.00 293.92 124.50 293.81 125.00 293.71 125.50 293.60 126.00 293.49 126.50 293.39 127.00 293.28 127.50 293.18 128.00 293.07 128.50 292.97 129.00 292.87 129.50 292.76 130.00 292.66 130.50 292.56 131.00 292.46 131.50 292.36 132.00 292.26 132.50 292.16 133.00 292.06 133.50 291.96 134.00 291.87 134.50 291.77 135.00 291.67 135.50 291.58 136.00 291.48 136.50 291.39 137.00 291.30 137.50 291.20 138.00 291.11 138.50 291.02 139.00 290.93 139.50 290.84 140.00 290.75 140.50 290.66 141.00 290.57 141.50 290.49 142.00 290.40 142.50 290.32 143.00 290.23 143.50 290.15 144.00 290.06 144.50 289.98 145.00 289.90 145.50 289.82 146.00 289.74 146.50 289.67 147.00 289.59 147.50 289.52 148.00 289.45 148.50 289.38 149.00 289.31 149.50 289.24 150.00 289.18 150.50 289.11 151.00 289.04 151.50 288.98 152.00 288.91 152.50 288.85 153.00 288.79 153.50 288.72 154.00 288.66 154.50 288.59 155.00 288.52 155.50 288.46 156.00 288.39 156.50 288.32 157.00 288.25 157.50 288.18 158.00 288.11 158.50 288.03 159.00 287.96 159.50 287.88 160.00 287.80 160.50 287.72 161.00 287.63 161.50 287.55 162.00 287.47 162.50 287.39 163.00 287.31 163.50 287.22 164.00 287.14 164.50 287.06 165.00 286.97 165.50 286.88 166.00 286.79 166.50 286.70 167.00 286.60 167.50 286.50 168.00 286.39 168.50 286.28 169.00 286.17 169.50 286.05 170.00 285.92 170.50 285.79 171.00 285.65 171.50 285.50 172.00 285.34 172.50 285.17 173.00 284.96 173.50 284.72 174.00 284.43 174.50 284.05 175.00 283.47 175.50 282.77 176.00 282.03 176.50 281.32 177.00 280.62 177.50 279.91 178.00 279.18 178.50 278.43 179.00 277.67 179.50 276.90 180.00 276.12 180.50 275.31 181.00 274.46 181.50 273.56 182.00 272.66 182.50 271.76 183.00 270.89 183.50 270.08 184.00 269.34 184.50 268.66 185.00 268.01 185.50 267.37 186.00 266.75 186.50 266.16 187.00 265.61 187.50 265.10 188.00 264.63 188.50 264.22 189.00 263.86 189.50 263.53 190.00 263.21 190.50 262.92 191.00 262.64 191.50 262.38 192.00 262.13 192.50 261.89 193.00 261.67 193.50 261.46 194.00 261.27 194.50 261.08 195.00 260.90 195.50 260.73 196.00 260.56 196.50 260.41 197.00 260.25 197.50 260.10 198.00 259.96 198.50 259.82 199.00 259.69 199.50 259.55 200.00 259.43 200.50 259.30 201.00 259.18 201.50 259.07 202.00 258.95 202.50 258.84 203.00 258.73 203.50 258.62 204.00 258.52 204.50 258.41 205.00 258.31 205.50 258.20 206.00 258.10 206.50 258.00 207.00 257.90 207.50 257.80 208.00 257.71 208.50 257.62 209.00 257.53 209.50 257.44 210.00 257.35 210.50 257.27 211.00 257.18 211.50 257.10 212.00 257.02 212.50 256.94 213.00 256.85 213.50 256.77 214.00 256.69 214.50 256.61 215.00 256.53 215.50 256.45 216.00 256.37 216.50 256.28 217.00 256.20 217.50 256.12 218.00 256.03 218.50 255.95 219.00 255.86 219.50 255.78 220.00 255.70 220.50 255.61 221.00 255.53 221.50 255.45 222.00 255.36 222.50 255.28 223.00 255.20 223.50 255.12 224.00 255.03 224.50 254.95 225.00 254.87 225.50 254.79 226.00 254.71 226.50 254.62 227.00 254.54 227.50 254.46 228.00 254.38 228.50 254.30" stroke="#0000ff" stroke-width="1.3" fill="none" stroke-linejoin="round" stroke-dasharray="1.7 2.38"/>
<path d="M62.30 349.75L62.50 281.70 63.00 281.70 63.50 281.70 64.00 281.70 64.50 281.70 65.00 281.69 65.50 281.69 66.00 281.69 66.50 281.68 67.00 281.68 67.50 281.67 68.00 281.67 68.50 281.66 69.00 281.66 69.50 281.65 70.00 281.64 70.50 281.64 71.00 281.63 71.50 281.62 72.00 281.61 72.50 281.60 73.00 281.59 73.50 281.58 74.00 281.57 74.50 281.56 75.00 281.55 75.50 281.54 76.00 281.52 76.50 281.49 77.00 281.46 77.50 281.42 78.00 281.38 78.50 281.34 79.00 281.29 79.50 281.24 80.00 281.19 80.50 281.14 81.00 281.08 81.50 281.02 82.00 280.96 82.50 280.90 83.00 280.82 83.50 280.74 84.00 280.65 84.50 280.55 85.00 280.46 85.50 280.35 86.00 280.24 86.50 280.14 87.00 280.02 87.50 279.91 88.00 279.80 88.50 279.69 89.00 279.58 89.50 279.47 90.00 279.35 90.50 279.23 91.00 279.11 91.50 278.99 92.00 278.87 92.50 278.74 93.00 278.61 93.50 278.48 94.00 278.35 94.50 278.22 95.00 278.09 95.50 277.96 96.00 277.83 96.50 277.69 97.00 277.56 97.50 277.42 98.00 277.28 98.50 277.14 99.00 277.00 99.50 276.86 100.00 276.71 100.50 276.57 101.00 276.43 101.50 276.30 102.00 276.16 102.50 276.03 103.00 275.90 103.50 275.78 104.00 275.66 104.50 275.54 105.00 275.42 105.50 275.31 106.00 275.20 106.50 275.09 107.00 274.98 107.50 274.88 108.00 274.77 108.50 274.66 109.00 274.55 109.50 274.45 110.00 274.34 110.50 274.22 111.00 274.11 111.50 273.99 112.00 273.88 112.50 273.76 113.00 273.64 113.50 273.52 114.00 273.40 114.50 273.28 115.00 273.16 115.50 273.04 116.00 272.92 116.50 272.81 117.00 272.69 117.50 272.57 118.00 272.45 118.50 272.34 119.00 272.22 119.50 272.11 120.00 272.00 120.50 271.89 121.00 271.78 121.50 271.67 122.00 271.56 122.50 271.45 123.00 271.34 123.50 271.24 124.00 271.13 124.50 271.02 125.00 270.91 125.50 270.80 126.00 270.70 126.50 270.59 127.00 270.49 127.50 270.38 128.00 270.27 128.50 270.17 129.00 270.06 129.50 269.96 130.00 269.85 130.50 269.75 131.00 269.65 131.50 269.54 132.00 269.44 132.50 269.34 133.00 269.24 133.50 269.13 134.00 269.03 134.50 268.93 135.00 268.83 135.50 268.73 136.00 268.63 136.50 268.53 137.00 268.43 137.50 268.33 138.00 268.23 138.50 268.14 139.00 268.04 139.50 267.94 140.00 267.84 140.50 267.75 141.00 267.65 141.50 267.56 142.00 267.46 142.50 267.37 143.00 267.27 143.50 267.18 144.00 267.09 144.50 266.99 145.00 266.90 145.50 266.81 146.00 266.72 146.50 266.64 147.00 266.55 147.50 266.48 148.00 266.40 148.50 266.32 149.00 266.25 149.50 266.18 150.00 266.11 150.50 266.04 151.00 265.97 151.50 265.91 152.00 265.84 152.50 265.78 153.00 265.71 153.50 265.65 154.00 265.59 154.50 265.53 155.00 265.46 155.50 265.40 156.00 265.34 156.50 265.27 157.00 265.21 157.50 265.14 158.00 265.07 158.50 265.01 159.00 264.94 159.50 264.87 160.00 264.79 160.50 264.72 161.00 264.64 161.50 264.56 162.00 264.48 162.50 264.40 163.00 264.31 163.50 264.22 164.00 264.12 164.50 264.03 165.00 263.93 165.50 263.82 166.00 263.72 166.50 263.61 167.00 263.49 167.50 263.37 168.00 263.25 168.50 263.12 169.00 262.98 169.50 262.84 170.00 262.70 170.50 262.54 171.00 262.35 171.50 262.13 172.00 261.89 172.50 261.62 173.00 261.32 173.50 260.99 174.00 260.64 174.50 260.26 175.00 259.84 175.50 259.30 176.00 258.66 176.50 257.95 177.00 257.18 177.50 256.38 178.00 255.57 178.50 254.76 179.00 253.94 179.50 253.03 180.00 252.08 180.50 251.10 181.00 250.13 181.50 249.21 182.00 248.35 182.50 247.60 183.00 246.92 183.50 246.27 184.00 245.64 184.50 245.05 185.00 244.48 185.50 243.95 186.00 243.45 186.50 242.98 187.00 242.56 187.50 242.17 188.00 241.80 188.50 241.44 189.00 241.10 189.50 240.78 190.00 240.47 190.50 240.17 191.00 239.89 191.50 239.63 192.00 239.37 192.50 239.14 193.00 238.91 193.50 238.70 194.00 238.50 194.50 238.30 195.00 238.11 195.50 237.93 196.00 237.75 196.50 237.58 197.00 237.41 197.50 237.25 198.00 237.09 198.50 236.94 199.00 236.79 199.50 236.65 200.00 236.51 200.50 236.37 201.00 236.24 201.50 236.11 202.00 235.99 202.50 235.86 203.00 235.74 203.50 235.63 204.00 235.51 204.50 235.40 205.00 235.29 205.50 235.18 206.00 235.08 206.50 234.97 207.00 234.87 207.50 234.77 208.00 234.67 208.50 234.58 209.00 234.48 209.50 234.39 210.00 234.30 210.50 234.21 211.00 234.12 211.50 234.04 212.00 233.95 212.50 233.87 213.00 233.79 213.50 233.71 214.00 233.64 214.50 233.56 215.00 233.48 215.50 233.41 216.00 233.34 216.50 233.27 217.00 233.20 217.50 233.13 218.00 233.06 218.50 233.00 219.00 232.93 219.50 232.87 220.00 232.80 220.50 232.74 221.00 232.68 221.50 232.62 222.00 232.56 222.50 232.50 223.00 232.44 223.50 232.39 224.00 232.33 224.50 232.28 225.00 232.23 225.50 232.18 226.00 232.13 226.50 232.08 227.00 232.03 227.50 231.99 228.00 231.94 228.50 231.90" stroke="#ff0000" stroke-width="1.3" fill="none" stroke-linejoin="round"/>
<path d="M228.50 349.75L228.70 241.70 229.20 241.72 229.70 241.75 230.20 241.77 230.70 241.79 231.20 241.81 231.70 241.83 232.20 241.84 232.70 241.86 233.20 241.88 233.70 241.89 234.20 241.91 234.70 241.92 235.20 241.94 235.70 241.95 236.20 241.96 236.70 241.97 237.20 241.98 237.70 241.99 238.20 242.00 238.70 242.01 239.20 242.02 239.70 242.03 240.20 242.04 240.70 242.04 241.20 242.05 241.70 242.05 242.20 242.06 242.70 242.06 243.20 242.07 243.70 242.07 244.20 242.08 244.70 242.08 245.20 242.08 245.70 242.09 246.20 242.09 246.70 242.09 247.20 242.09 247.70 242.09 248.20 242.10 248.70 242.10 249.20 242.10 249.70 242.10 250.20 242.10 250.70 242.10 251.20 242.10 251.70 242.10 252.20 242.10 252.70 242.10 253.20 242.10 253.70 242.10 254.20 242.10 254.70 242.10 255.20 242.09 255.70 242.07 256.20 242.06 256.70 242.04 257.20 242.01 257.70 241.99 258.20 241.96 258.70 241.93 259.20 241.90 259.70 241.86 260.20 241.82 260.70 241.79 261.20 241.75 261.70 241.71 262.20 241.67 262.70 241.63 263.20 241.60 263.70 241.56 264.20 241.52 264.70 241.49 265.20 241.45 265.70 241.42 266.20 241.39 266.70 241.37 267.20 241.34 267.70 241.32 268.20 241.31 268.70 241.29 269.20 241.28 269.70 241.26 270.20 241.25 270.70 241.24 271.20 241.22 271.70 241.21 272.20 241.20 272.70 241.19 273.20 241.17 273.70 241.16 274.20 241.15 274.70 241.14 275.20 241.13 275.70 241.12 276.20 241.11 276.70 241.10 277.20 241.09 277.70 241.08 278.20 241.07 278.70 241.06 279.20 241.05 279.70 241.05 280.20 241.04 280.70 241.03 281.20 241.03 281.70 241.02 282.20 241.02 282.70 241.01 283.20 241.01 283.70 241.01 284.20 241.00 284.70 241.00 285.20 241.00 285.70 241.00 286.20 241.00 286.70 241.00 287.20 241.00 287.70 240.99 288.20 240.99 288.70 240.99 289.20 240.99 289.70 240.99 290.20 240.99 290.70 240.99 291.20 240.99 291.70 240.99 292.20 240.98 292.70 240.98 293.20 240.98 293.70 240.98 294.20 240.98 294.70 240.98 295.20 240.98 295.70 240.98 296.20 240.98 296.70 240.98 297.20 240.98 297.70 240.97 298.20 240.97 298.70 240.97 299.20 240.97 299.70 240.97 300.20 240.97 300.70 240.97 301.20 240.97 301.70 240.97 302.20 240.97 302.70 240.97 303.20 240.96 303.70 240.96 304.20 240.96 304.70 240.96 305.20 240.96 305.70 240.96 306.20 240.96 306.70 240.96 307.20 240.96 307.70 240.96 308.20 240.96 308.70 240.96 309.20 240.95 309.70 240.95 310.20 240.95 310.70 240.95 311.20 240.95 311.70 240.95 312.20 240.95 312.70 240.95 313.20 240.95 313.70 240.95 314.20 240.95 314.70 240.95 315.20 240.95 315.70 240.95 316.20 240.94 316.70 240.94 317.20 240.94 317.70 240.94 318.20 240.94 318.70 240.94 319.20 240.94 319.70 240.94 320.20 240.94 320.70 240.94 321.20 240.94 321.70 240.94 322.20 240.94 322.70 240.94 323.20 240.94 323.70 240.94 324.20 240.93 324.70 240.93 325.20 240.93 325.70 240.93 326.20 240.93 326.70 240.93 327.20 240.93 327.70 240.93 328.20 240.93 328.70 240.93 329.20 240.93 329.70 240.93 330.20 240.93 330.70 240.93 331.20 240.93 331.70 240.93 332.20 240.93 332.70 240.93 333.20 240.93 333.70 240.92 334.20 240.92 334.70 240.92 335.20 240.92 335.70 240.92 336.20 240.92 336.70 240.92 337.20 240.92 337.70 240.92 338.20 240.92 338.70 240.92 339.20 240.92 339.70 240.92 340.20 240.92 340.70 240.92 341.20 240.92 341.70 240.92 342.20 240.92 342.70 240.92 343.20 240.92 343.70 240.92 344.20 240.92 344.70 240.92 345.20 240.92 345.70 240.91 346.20 240.91 346.70 240.91 347.20 240.91 347.70 240.91 348.20 240.91 348.70 240.91 349.20 240.91 349.70 240.91 350.20 240.91 350.70 240.91 351.20 240.91 351.70 240.91 352.20 240.91 352.70 240.91 353.20 240.91 353.70 240.91 354.20 240.91 354.70 240.91 355.20 240.91 355.70 240.91 356.20 240.91 356.70 240.91 357.20 240.91 357.70 240.91 358.20 240.91 358.70 240.91 359.20 240.91 359.70 240.91 360.20 240.91 360.70 240.91 361.20 240.91 361.70 240.91 362.20 240.91 362.70 240.91 363.20 240.91 363.70 240.91 364.20 240.91 364.70 240.90 365.20 240.90 365.70 240.90 366.20 240.90 366.70 240.90 367.20 240.90 367.70 240.90 368.20 240.90 368.70 240.90 369.20 240.90 369.70 240.90 370.20 240.90 370.70 240.90 371.20 240.90 371.70 240.90 372.20 240.90 372.70 240.90 373.20 240.90 373.70 240.90 374.20 240.90 374.70 240.90 375.20 240.90 375.70 240.90 376.20 240.90 376.70 240.90 377.20 240.90 377.70 240.90 378.20 240.90 378.70 240.90 379.20 240.90 379.70 240.90 380.20 240.90 380.70 240.90 381.20 240.90 381.70 240.90 382.20 240.90 382.70 240.90 383.20 240.90 383.70 240.90 384.20 240.90 384.70 240.90 385.20 240.90 385.70 240.90 386.20 240.90 386.70 240.90 387.20 240.90 387.70 240.90 388.20 240.90 388.70 240.90 389.20 240.90 389.70 240.90 390.20 240.90 390.70 240.90 391.20 240.90 391.70 240.90 392.20 240.90 392.70 240.90 393.20 240.90 393.70 240.90 394.20 240.90 394.50 240.90" stroke="#0000ff" stroke-width="1.3" fill="none" stroke-linejoin="round" stroke-dasharray="1.7 2.38" stroke-dashoffset="-1.3"/>
<path d="M228.50 349.75L228.70 218.90 229.20 218.91 229.70 218.92 230.20 218.93 230.70 218.94 231.20 218.95 231.70 218.96 232.20 218.97 232.70 218.98 233.20 218.99 233.70 219.00 234.20 219.00 234.70 219.01 235.20 219.02 235.70 219.02 236.20 219.03 236.70 219.04 237.20 219.04 237.70 219.05 238.20 219.05 238.70 219.06 239.20 219.06 239.70 219.06 240.20 219.07 240.70 219.07 241.20 219.07 241.70 219.08 242.20 219.08 242.70 219.08 243.20 219.08 243.70 219.09 244.20 219.09 244.70 219.09 245.20 219.09 245.70 219.09 246.20 219.09 246.70 219.10 247.20 219.10 247.70 219.10 248.20 219.10 248.70 219.10 249.20 219.10 249.70 219.10 250.20 219.10 250.70 219.10 251.20 219.10 251.70 219.10 252.20 219.10 252.70 219.10 253.20 219.10 253.70 219.10 254.20 219.10 254.70 219.09 255.20 219.08 255.70 219.07 256.20 219.04 256.70 219.02 257.20 218.99 257.70 218.95 258.20 218.91 258.70 218.87 259.20 218.83 259.70 218.78 260.20 218.74 260.70 218.69 261.20 218.64 261.70 218.59 262.20 218.54 262.70 218.49 263.20 218.44 263.70 218.39 264.20 218.35 264.70 218.31 265.20 218.27 265.70 218.23 266.20 218.20 266.70 218.17 267.20 218.14 267.70 218.12 268.20 218.10 268.70 218.09 269.20 218.08 269.70 218.07 270.20 218.06 270.70 218.05 271.20 218.04 271.70 218.04 272.20 218.03 272.70 218.02 273.20 218.01 273.70 218.00 274.20 217.99 274.70 217.98 275.20 217.98 275.70 217.97 276.20 217.96 276.70 217.96 277.20 217.95 277.70 217.94 278.20 217.94 278.70 217.93 279.20 217.93 279.70 217.92 280.20 217.92 280.70 217.92 281.20 217.91 281.70 217.91 282.20 217.91 282.70 217.90 283.20 217.90 283.70 217.90 284.20 217.90 284.70 217.90 285.20 217.90 285.70 217.90 286.20 217.90 286.70 217.90 287.20 217.90 287.70 217.90 288.20 217.91 288.70 217.91 289.20 217.91 289.70 217.91 290.20 217.92 290.70 217.92 291.20 217.92 291.70 217.93 292.20 217.93 292.70 217.94 293.20 217.94 293.70 217.94 294.20 217.95 294.70 217.96 295.20 217.96 295.70 217.97 296.20 217.97 296.70 217.98 297.20 217.98 297.70 217.99 298.20 218.00 298.70 218.00 299.20 218.01 299.70 218.02 300.20 218.02 300.70 218.03 301.20 218.04 301.70 218.04 302.20 218.05 302.70 218.06 303.20 218.07 303.70 218.07 304.20 218.08 304.70 218.09 305.20 218.10 305.70 218.11 306.20 218.11 306.70 218.12 307.20 218.13 307.70 218.14 308.20 218.15 308.70 218.15 309.20 218.16 309.70 218.17 310.20 218.18 310.70 218.19 311.20 218.19 311.70 218.20 312.20 218.21 312.70 218.22 313.20 218.22 313.70 218.23 314.20 218.24 314.70 218.25 315.20 218.25 315.70 218.26 316.20 218.27 316.70 218.28 317.20 218.28 317.70 218.29 318.20 218.30 318.70 218.30 319.20 218.31 319.70 218.32 320.20 218.32 320.70 218.33 321.20 218.33 321.70 218.34 322.20 218.34 322.70 218.35 323.20 218.36 323.70 218.36 324.20 218.36 324.70 218.37 325.20 218.37 325.70 218.38 326.20 218.38 326.70 218.38 327.20 218.39 327.70 218.39 328.20 218.39 328.70 218.40 329.20 218.40 329.70 218.40 330.20 218.40 330.70 218.40 331.20 218.40 331.70 218.40 332.20 218.41 332.70 218.41 333.20 218.41 333.70 218.41 334.20 218.41 334.70 218.41 335.20 218.41 335.70 218.42 336.20 218.42 336.70 218.42 337.20 218.42 337.70 218.42 338.20 218.42 338.70 218.42 339.20 218.42 339.70 218.43 340.20 218.43 340.70 218.43 341.20 218.43 341.70 218.43 342.20 218.43 342.70 218.43 343.20 218.43 343.70 218.44 344.20 218.44 344.70 218.44 345.20 218.44 345.70 218.44 346.20 218.44 346.70 218.44 347.20 218.44 347.70 218.45 348.20 218.45 348.70 218.45 349.20 218.45 349.70 218.45 350.20 218.45 350.70 218.45 351.20 218.45 351.70 218.45 352.20 218.45 352.70 218.46 353.20 218.46 353.70 218.46 354.20 218.46 354.70 218.46 355.20 218.46 355.70 218.46 356.20 218.46 356.70 218.46 357.20 218.46 357.70 218.47 358.20 218.47 358.70 218.47 359.20 218.47 359.70 218.47 360.20 218.47 360.70 218.47 361.20 218.47 361.70 218.47 362.20 218.47 362.70 218.47 363.20 218.47 363.70 218.48 364.20 218.48 364.70 218.48 365.20 218.48 365.70 218.48 366.20 218.48 366.70 218.48 367.20 218.48 367.70 218.48 368.20 218.48 368.70 218.48 369.20 218.48 369.70 218.48 370.20 218.48 370.70 218.48 371.20 218.49 371.70 218.49 372.20 218.49 372.70 218.49 373.20 218.49 373.70 218.49 374.20 218.49 374.70 218.49 375.20 218.49 375.70 218.49 376.20 218.49 376.70 218.49 377.20 218.49 377.70 218.49 378.20 218.49 378.70 218.49 379.20 218.49 379.70 218.49 380.20 218.49 380.70 218.49 381.20 218.50 381.70 218.50 382.20 218.50 382.70 218.50 383.20 218.50 383.70 218.50 384.20 218.50 384.70 218.50 385.20 218.50 385.70 218.50 386.20 218.50 386.70 218.50 387.20 218.50 387.70 218.50 388.20 218.50 388.70 218.50 389.20 218.50 389.70 218.50 390.20 218.50 390.70 218.50 391.20 218.50 391.70 218.50 392.20 218.50 392.70 218.50 393.20 218.50 393.70 218.50 394.20 218.50 394.50 218.50" stroke="#ff0000" stroke-width="1.3" fill="none" stroke-linejoin="round"/>
<path d="M62.30 486.10L62.50 385.30 63.00 385.29 63.50 385.28 64.00 385.27 64.50 385.26 65.00 385.26 65.50 385.25 66.00 385.24 66.50 385.23 67.00 385.22 67.50 385.21 68.00 385.20 68.50 385.19 69.00 385.18 69.50 385.18 70.00 385.17 70.50 385.16 71.00 385.15 71.50 385.14 72.00 385.13 72.50 385.12 73.00 385.11 73.50 385.11 74.00 385.10 74.50 385.09 75.00 385.08 75.50 385.07 76.00 385.06 76.50 385.05 77.00 385.05 77.50 385.04 78.00 385.03 78.50 385.02 79.00 385.01 79.50 385.00 80.00 384.99 80.50 384.99 81.00 384.98 81.50 384.97 82.00 384.96 82.50 384.95 83.00 384.94 83.50 384.94 84.00 384.93 84.50 384.92 85.00 384.91 85.50 384.90 86.00 384.89 86.50 384.89 87.00 384.88 87.50 384.87 88.00 384.86 88.50 384.85 89.00 384.85 89.50 384.84 90.00 384.83 90.50 384.82 91.00 384.81 91.50 384.81 92.00 384.80 92.50 384.79 93.00 384.78 93.50 384.78 94.00 384.77 94.50 384.76 95.00 384.75 95.50 384.74 96.00 384.74 96.50 384.73 97.00 384.72 97.50 384.71 98.00 384.71 98.50 384.70 99.00 384.69 99.50 384.68 100.00 384.68 100.50 384.67 101.00 384.66 101.50 384.65 102.00 384.65 102.50 384.64 103.00 384.63 103.50 384.62 104.00 384.62 104.50 384.61 105.00 384.60 105.50 384.60 106.00 384.59 106.50 384.58 107.00 384.57 107.50 384.57 108.00 384.56 108.50 384.55 109.00 384.55 109.50 384.54 110.00 384.53 110.50 384.52 111.00 384.52 111.50 384.51 112.00 384.50 112.50 384.50 113.00 384.49 113.50 384.48 114.00 384.48 114.50 384.47 115.00 384.46 115.50 384.46 116.00 384.45 116.50 384.44 117.00 384.44 117.50 384.43 118.00 384.42 118.50 384.42 119.00 384.41 119.50 384.41 120.00 384.40 120.50 384.39 121.00 384.39 121.50 384.38 122.00 384.37 122.50 384.37 123.00 384.36 123.50 384.36 124.00 384.35 124.50 384.34 125.00 384.34 125.50 384.33 126.00 384.33 126.50 384.32 127.00 384.31 127.50 384.31 128.00 384.30 128.50 384.30 129.00 384.29 129.50 384.29 130.00 384.28 130.50 384.27 131.00 384.27 131.50 384.26 132.00 384.26 132.50 384.25 133.00 384.25 133.50 384.24 134.00 384.24 134.50 384.23 135.00 384.22 135.50 384.22 136.00 384.21 136.50 384.21 137.00 384.20 137.50 384.20 138.00 384.19 138.50 384.19 139.00 384.18 139.50 384.18 140.00 384.17 140.50 384.17 141.00 384.16 141.50 384.16 142.00 384.15 142.50 384.15 143.00 384.14 143.50 384.14 144.00 384.14 144.50 384.13 145.00 384.13 145.50 384.12 146.00 384.12 146.50 384.11 147.00 384.11 147.50 384.10 148.00 384.10 148.50 384.10 149.00 384.09 149.50 384.09 150.00 384.08 150.50 384.08 151.00 384.07 151.50 384.07 152.00 384.07 152.50 384.06 153.00 384.06 153.50 384.05 154.00 384.05 154.50 384.04 155.00 384.04 155.50 384.04 156.00 384.03 156.50 384.03 157.00 384.02 157.50 384.02 158.00 384.02 158.50 384.01 159.00 384.01 159.50 384.00 160.00 384.00 160.50 384.00 161.00 383.99 161.50 383.99 162.00 383.98 162.50 383.98 163.00 383.97 163.50 383.97 164.00 383.97 164.50 383.96 165.00 383.96 165.50 383.95 166.00 383.95 166.50 383.95 167.00 383.94 167.50 383.94 168.00 383.93 168.50 383.93 169.00 383.93 169.50 383.92 170.00 383.92 170.50 383.92 171.00 383.91 171.50 383.91 172.00 383.90 172.50 383.90 173.00 383.90 173.50 383.89 174.00 383.89 174.50 383.88 175.00 383.88 175.50 383.88 176.00 383.87 176.50 383.87 177.00 383.87 177.50 383.86 178.00 383.86 178.50 383.86 179.00 383.85 179.50 383.85 180.00 383.84 180.50 383.84 181.00 383.84 181.50 383.83 182.00 383.83 182.50 383.83 183.00 383.82 183.50 383.82 184.00 383.82 184.50 383.81 185.00 383.81 185.50 383.81 186.00 383.80 186.50 383.80 187.00 383.80 187.50 383.79 188.00 383.79 188.50 383.79 189.00 383.78 189.50 383.78 190.00 383.78 190.50 383.77 191.00 383.77 191.50 383.77 192.00 383.76 192.50 383.76 193.00 383.76 193.50 383.75 194.00 383.75 194.50 383.75 195.00 383.75 195.50 383.74 196.00 383.74 196.50 383.74 197.00 383.73 197.50 383.73 198.00 383.73 198.50 383.72 199.00 383.72 199.50 383.72 200.00 383.72 200.50 383.71 201.00 383.71 201.50 383.71 202.00 383.71 202.50 383.70 203.00 383.70 203.50 383.70 204.00 383.69 204.50 383.69 205.00 383.69 205.50 383.69 206.00 383.68 206.50 383.68 207.00 383.68 207.50 383.68 208.00 383.67 208.50 383.67 209.00 383.67 209.50 383.67 210.00 383.67 210.50 383.66 211.00 383.66 211.50 383.66 212.00 383.66 212.50 383.65 213.00 383.65 213.50 383.65 214.00 383.65 214.50 383.65 215.00 383.64 215.50 383.64 216.00 383.64 216.50 383.64 217.00 383.64 217.50 383.63 218.00 383.63 218.50 383.63 219.00 383.63 219.50 383.63 220.00 383.63 220.50 383.62 221.00 383.62 221.50 383.62 222.00 383.62 222.50 383.62 223.00 383.62 223.50 383.61 224.00 383.61 224.50 383.61 225.00 383.61 225.50 383.61 226.00 383.61 226.50 383.61 227.00 383.60 227.50 383.60 228.00 383.60 228.50 383.60" stroke="#0000ff" stroke-width="1.3" fill="none" stroke-linejoin="round" stroke-dasharray="1.7 2.38" stroke-dashoffset="1.3"/>
<path d="M62.30 486.10L62.50 363.90 63.00 363.89 63.50 363.88 64.00 363.87 64.50 363.86 65.00 363.85 65.50 363.84 66.00 363.83 66.50 363.82 67.00 363.81 67.50 363.80 68.00 363.79 68.50 363.78 69.00 363.77 69.50 363.76 70.00 363.74 70.50 363.73 71.00 363.72 71.50 363.71 72.00 363.70 72.50 363.69 73.00 363.68 73.50 363.67 74.00 363.66 74.50 363.65 75.00 363.64 75.50 363.63 76.00 363.62 76.50 363.61 77.00 363.60 77.50 363.59 78.00 363.58 78.50 363.57 79.00 363.56 79.50 363.55 80.00 363.55 80.50 363.54 81.00 363.53 81.50 363.52 82.00 363.51 82.50 363.50 83.00 363.49 83.50 363.48 84.00 363.47 84.50 363.46 85.00 363.45 85.50 363.44 86.00 363.43 86.50 363.42 87.00 363.41 87.50 363.40 88.00 363.39 88.50 363.38 89.00 363.37 89.50 363.36 90.00 363.35 90.50 363.35 91.00 363.34 91.50 363.33 92.00 363.32 92.50 363.31 93.00 363.30 93.50 363.29 94.00 363.28 94.50 363.27 95.00 363.26 95.50 363.25 96.00 363.25 96.50 363.24 97.00 363.23 97.50 363.22 98.00 363.21 98.50 363.20 99.00 363.19 99.50 363.18 100.00 363.17 100.50 363.17 101.00 363.16 101.50 363.15 102.00 363.14 102.50 363.13 103.00 363.12 103.50 363.11 104.00 363.11 104.50 363.10 105.00 363.09 105.50 363.08 106.00 363.07 106.50 363.06 107.00 363.06 107.50 363.05 108.00 363.04 108.50 363.03 109.00 363.02 109.50 363.01 110.00 363.01 110.50 363.00 111.00 362.99 111.50 362.98 112.00 362.97 112.50 362.97 113.00 362.96 113.50 362.95 114.00 362.94 114.50 362.94 115.00 362.93 115.50 362.92 116.00 362.91 116.50 362.90 117.00 362.90 117.50 362.89 118.00 362.88 118.50 362.87 119.00 362.87 119.50 362.86 120.00 362.85 120.50 362.84 121.00 362.84 121.50 362.83 122.00 362.82 122.50 362.82 123.00 362.81 123.50 362.80 124.00 362.79 124.50 362.79 125.00 362.78 125.50 362.77 126.00 362.77 126.50 362.76 127.00 362.75 127.50 362.75 128.00 362.74 128.50 362.73 129.00 362.73 129.50 362.72 130.00 362.71 130.50 362.71 131.00 362.70 131.50 362.69 132.00 362.69 132.50 362.68 133.00 362.67 133.50 362.67 134.00 362.66 134.50 362.65 135.00 362.65 135.50 362.64 136.00 362.64 136.50 362.63 137.00 362.62 137.50 362.62 138.00 362.61 138.50 362.60 139.00 362.60 139.50 362.59 140.00 362.59 140.50 362.58 141.00 362.58 141.50 362.57 142.00 362.56 142.50 362.56 143.00 362.55 143.50 362.55 144.00 362.54 144.50 362.54 145.00 362.53 145.50 362.53 146.00 362.52 146.50 362.52 147.00 362.51 147.50 362.51 148.00 362.50 148.50 362.49 149.00 362.49 149.50 362.48 150.00 362.48 150.50 362.47 151.00 362.47 151.50 362.46 152.00 362.46 152.50 362.45 153.00 362.45 153.50 362.44 154.00 362.44 154.50 362.43 155.00 362.43 155.50 362.42 156.00 362.42 156.50 362.41 157.00 362.41 157.50 362.40 158.00 362.40 158.50 362.39 159.00 362.39 159.50 362.38 160.00 362.38 160.50 362.38 161.00 362.37 161.50 362.37 162.00 362.36 162.50 362.36 163.00 362.35 163.50 362.35 164.00 362.34 164.50 362.34 165.00 362.33 165.50 362.33 166.00 362.32 166.50 362.32 167.00 362.31 167.50 362.31 168.00 362.30 168.50 362.30 169.00 362.29 169.50 362.29 170.00 362.29 170.50 362.28 171.00 362.28 171.50 362.27 172.00 362.27 172.50 362.26 173.00 362.26 173.50 362.25 174.00 362.25 174.50 362.24 175.00 362.24 175.50 362.24 176.00 362.23 176.50 362.23 177.00 362.22 177.50 362.22 178.00 362.21 178.50 362.21 179.00 362.20 179.50 362.20 180.00 362.20 180.50 362.19 181.00 362.19 181.50 362.18 182.00 362.18 182.50 362.18 183.00 362.17 183.50 362.17 184.00 362.16 184.50 362.16 185.00 362.15 185.50 362.15 186.00 362.15 186.50 362.14 187.00 362.14 187.50 362.13 188.00 362.13 188.50 362.13 189.00 362.12 189.50 362.12 190.00 362.12 190.50 362.11 191.00 362.11 191.50 362.10 192.00 362.10 192.50 362.10 193.00 362.09 193.50 362.09 194.00 362.09 194.50 362.08 195.00 362.08 195.50 362.07 196.00 362.07 196.50 362.07 197.00 362.06 197.50 362.06 198.00 362.06 198.50 362.05 199.00 362.05 199.50 362.05 200.00 362.04 200.50 362.04 201.00 362.04 201.50 362.03 202.00 362.03 202.50 362.03 203.00 362.02 203.50 362.02 204.00 362.02 204.50 362.01 205.00 362.01 205.50 362.01 206.00 362.00 206.50 362.00 207.00 362.00 207.50 362.00 208.00 361.99 208.50 361.99 209.00 361.99 209.50 361.98 210.00 361.98 210.50 361.98 211.00 361.98 211.50 361.97 212.00 361.97 212.50 361.97 213.00 361.97 213.50 361.96 214.00 361.96 214.50 361.96 215.00 361.95 215.50 361.95 216.00 361.95 216.50 361.95 217.00 361.95 217.50 361.94 218.00 361.94 218.50 361.94 219.00 361.94 219.50 361.93 220.00 361.93 220.50 361.93 221.00 361.93 221.50 361.93 222.00 361.92 222.50 361.92 223.00 361.92 223.50 361.92 224.00 361.92 224.50 361.91 225.00 361.91 225.50 361.91 226.00 361.91 226.50 361.91 227.00 361.90 227.50 361.90 228.00 361.90 228.50 361.90" stroke="#ff0000" stroke-width="1.3" fill="none" stroke-linejoin="round"/>
<path d="M228.50 486.10L228.70 392.30 229.20 392.30 229.70 392.30 230.20 392.30 230.70 392.30 231.20 392.30 231.70 392.30 232.20 392.30 232.70 392.29 233.20 392.29 233.70 392.29 234.20 392.29 234.70 392.29 235.20 392.28 235.70 392.28 236.20 392.28 236.70 392.28 237.20 392.27 237.70 392.27 238.20 392.27 238.70 392.26 239.20 392.26 239.70 392.25 240.20 392.25 240.70 392.24 241.20 392.24 241.70 392.23 242.20 392.23 242.70 392.22 243.20 392.22 243.70 392.21 244.20 392.20 244.70 392.20 245.20 392.17 245.70 392.12 246.20 392.06 246.70 391.98 247.20 391.90 247.70 391.80 248.20 391.70 248.70 391.60 249.20 391.49 249.70 391.39 250.20 391.30 250.70 391.21 251.20 391.13 251.70 391.07 252.20 391.03 252.70 391.00 253.20 391.00 253.70 391.00 254.20 391.00 254.70 391.00 255.20 391.00 255.70 391.00 256.20 391.00 256.70 391.00 257.20 391.00 257.70 391.00 258.20 391.00 258.70 391.00 259.20 391.00 259.70 391.00 260.20 391.00 260.70 391.00 261.20 391.00 261.70 391.00 262.20 391.00 262.70 391.00 263.20 391.00 263.70 391.00 264.20 391.00 264.70 391.00 265.20 391.00 265.70 391.00 266.20 391.00 266.70 391.00 267.20 391.00 267.70 391.00 268.20 391.00 268.70 391.00 269.20 391.00 269.70 391.00 270.20 391.00 270.70 391.00 271.20 391.00 271.70 391.00 272.20 391.00 272.70 391.00 273.20 391.00 273.70 391.00 274.20 391.00 274.70 391.00 275.20 391.00 275.70 391.00 276.20 391.00 276.70 391.00 277.20 391.00 277.70 391.00 278.20 391.00 278.70 391.00 279.20 391.00 279.70 391.00 280.20 391.00 280.70 391.00 281.20 391.00 281.70 391.00 282.20 391.00 282.70 391.00 283.20 391.00 283.70 391.00 284.20 391.00 284.70 391.00 285.20 391.00 285.70 391.00 286.20 391.00 286.70 391.00 287.20 391.00 287.70 391.00 288.20 391.00 288.70 391.00 289.20 391.00 289.70 391.00 290.20 391.00 290.70 391.00 291.20 391.00 291.70 391.00 292.20 391.00 292.70 391.00 293.20 391.00 293.70 391.00 294.20 391.00 294.70 391.00 295.20 391.00 295.70 391.00 296.20 391.00 296.70 391.00 297.20 391.00 297.70 391.00 298.20 391.00 298.70 391.00 299.20 391.00 299.70 391.00 300.20 391.00 300.70 391.00 301.20 391.00 301.70 391.00 302.20 391.00 302.70 391.00 303.20 391.00 303.70 391.00 304.20 391.00 304.70 391.00 305.20 391.00 305.70 391.00 306.20 391.00 306.70 391.00 307.20 391.00 307.70 391.00 308.20 391.00 308.70 391.00 309.20 391.00 309.70 391.00 310.20 391.00 310.70 391.00 311.20 391.00 311.70 391.00 312.20 391.00 312.70 391.00 313.20 391.00 313.70 391.00 314.20 391.00 314.70 391.00 315.20 391.00 315.70 391.00 316.20 391.00 316.70 391.00 317.20 391.00 317.70 391.00 318.20 391.00 318.70 391.00 319.20 391.00 319.70 391.00 320.20 391.00 320.70 391.00 321.20 391.00 321.70 391.00 322.20 391.00 322.70 391.00 323.20 391.00 323.70 391.00 324.20 391.00 324.70 391.00 325.20 391.00 325.70 391.00 326.20 391.00 326.70 391.00 327.20 391.00 327.70 391.00 328.20 391.00 328.70 391.00 329.20 391.00 329.70 391.00 330.20 391.00 330.70 391.00 331.20 391.00 331.70 391.00 332.20 391.00 332.70 391.00 333.20 391.00 333.70 391.00 334.20 391.00 334.70 391.00 335.20 391.00 335.70 391.00 336.20 391.00 336.70 391.00 337.20 391.00 337.70 391.00 338.20 391.00 338.70 391.00 339.20 391.00 339.70 391.00 340.20 391.00 340.70 391.00 341.20 391.00 341.70 391.00 342.20 391.00 342.70 391.00 343.20 391.00 343.70 391.00 344.20 391.00 344.70 391.00 345.20 391.00 345.70 391.00 346.20 391.00 346.70 391.00 347.20 391.00 347.70 391.00 348.20 391.00 348.70 391.00 349.20 391.00 349.70 391.00 350.20 391.00 350.70 391.00 351.20 391.00 351.70 391.00 352.20 391.00 352.70 391.00 353.20 391.00 353.70 391.00 354.20 391.00 354.70 391.00 355.20 391.00 355.70 391.00 356.20 391.00 356.70 391.00 357.20 391.00 357.70 391.00 358.20 391.00 358.70 391.00 359.20 391.00 359.70 391.00 360.20 391.00 360.70 391.00 361.20 391.00 361.70 391.00 362.20 391.00 362.70 391.00 363.20 391.00 363.70 391.00 364.20 391.00 364.70 391.00 365.20 391.00 365.70 391.00 366.20 391.00 366.70 391.00 367.20 391.00 367.70 391.00 368.20 391.00 368.70 391.00 369.20 391.00 369.70 391.00 370.20 391.00 370.70 391.00 371.20 391.00 371.70 391.00 372.20 391.00 372.70 391.00 373.20 391.00 373.70 391.00 374.20 391.00 374.70 391.00 375.20 391.00 375.70 391.00 376.20 391.00 376.70 391.00 377.20 391.00 377.70 391.00 378.20 391.00 378.70 391.00 379.20 391.00 379.70 391.00 380.20 391.00 380.70 391.00 381.20 391.00 381.70 391.00 382.20 391.00 382.70 391.00 383.20 391.00 383.70 391.00 384.20 391.00 384.70 391.00 385.20 391.00 385.70 391.00 386.20 391.00 386.70 391.00 387.20 391.00 387.70 391.00 388.20 391.00 388.70 391.00 389.20 391.00 389.70 391.00 390.20 391.00 390.70 391.00 391.20 391.00 391.70 391.00 392.20 391.00 392.70 391.00 393.20 391.00 393.70 391.00 394.20 391.00 394.50 391.00" stroke="#0000ff" stroke-width="1.3" fill="none" stroke-linejoin="round" stroke-dasharray="1.7 2.38"/>
<path d="M228.50 486.10L228.70 371.00 229.20 371.00 229.70 371.00 230.20 371.00 230.70 371.00 231.20 370.99 231.70 370.99 232.20 370.99 232.70 370.99 233.20 370.98 233.70 370.98 234.20 370.97 234.70 370.97 235.20 370.96 235.70 370.96 236.20 370.95 236.70 370.95 237.20 370.94 237.70 370.93 238.20 370.93 238.70 370.92 239.20 370.91 239.70 370.90 240.20 370.89 240.70 370.88 241.20 370.87 241.70 370.86 242.20 370.85 242.70 370.84 243.20 370.83 243.70 370.82 244.20 370.81 244.70 370.79 245.20 370.77 245.70 370.73 246.20 370.67 246.70 370.61 247.20 370.53 247.70 370.45 248.20 370.36 248.70 370.26 249.20 370.17 249.70 370.07 250.20 369.97 250.70 369.87 251.20 369.77 251.70 369.68 252.20 369.60 252.70 369.52 253.20 369.45 253.70 369.39 254.20 369.35 254.70 369.32 255.20 369.30 255.70 369.30 256.20 369.30 256.70 369.30 257.20 369.30 257.70 369.30 258.20 369.30 258.70 369.30 259.20 369.30 259.70 369.30 260.20 369.30 260.70 369.30 261.20 369.30 261.70 369.30 262.20 369.30 262.70 369.30 263.20 369.30 263.70 369.30 264.20 369.30 264.70 369.30 265.20 369.30 265.70 369.30 266.20 369.30 266.70 369.30 267.20 369.30 267.70 369.30 268.20 369.30 268.70 369.30 269.20 369.30 269.70 369.30 270.20 369.30 270.70 369.30 271.20 369.30 271.70 369.30 272.20 369.30 272.70 369.30 273.20 369.30 273.70 369.30 274.20 369.30 274.70 369.30 275.20 369.30 275.70 369.30 276.20 369.30 276.70 369.30 277.20 369.30 277.70 369.30 278.20 369.30 278.70 369.30 279.20 369.30 279.70 369.30 280.20 369.30 280.70 369.30 281.20 369.30 281.70 369.30 282.20 369.30 282.70 369.30 283.20 369.30 283.70 369.30 284.20 369.30 284.70 369.30 285.20 369.30 285.70 369.30 286.20 369.30 286.70 369.30 287.20 369.30 287.70 369.30 288.20 369.30 288.70 369.30 289.20 369.30 289.70 369.30 290.20 369.30 290.70 369.30 291.20 369.30 291.70 369.30 292.20 369.30 292.70 369.30 293.20 369.30 293.70 369.30 294.20 369.30 294.70 369.30 295.20 369.30 295.70 369.30 296.20 369.30 296.70 369.30 297.20 369.30 297.70 369.30 298.20 369.30 298.70 369.30 299.20 369.30 299.70 369.30 300.20 369.30 300.70 369.30 301.20 369.30 301.70 369.30 302.20 369.30 302.70 369.30 303.20 369.30 303.70 369.30 304.20 369.30 304.70 369.30 305.20 369.30 305.70 369.30 306.20 369.30 306.70 369.30 307.20 369.30 307.70 369.30 308.20 369.30 308.70 369.30 309.20 369.30 309.70 369.30 310.20 369.30 310.70 369.30 311.20 369.30 311.70 369.30 312.20 369.30 312.70 369.30 313.20 369.30 313.70 369.30 314.20 369.30 314.70 369.30 315.20 369.30 315.70 369.30 316.20 369.30 316.70 369.30 317.20 369.30 317.70 369.30 318.20 369.30 318.70 369.30 319.20 369.30 319.70 369.30 320.20 369.30 320.70 369.30 321.20 369.30 321.70 369.30 322.20 369.30 322.70 369.30 323.20 369.30 323.70 369.30 324.20 369.30 324.70 369.30 325.20 369.30 325.70 369.30 326.20 369.30 326.70 369.30 327.20 369.30 327.70 369.30 328.20 369.30 328.70 369.30 329.20 369.30 329.70 369.30 330.20 369.30 330.70 369.30 331.20 369.30 331.70 369.30 332.20 369.30 332.70 369.30 333.20 369.30 333.70 369.30 334.20 369.30 334.70 369.30 335.20 369.30 335.70 369.30 336.20 369.30 336.70 369.30 337.20 369.30 337.70 369.30 338.20 369.30 338.70 369.30 339.20 369.30 339.70 369.30 340.20 369.30 340.70 369.30 341.20 369.30 341.70 369.30 342.20 369.30 342.70 369.30 343.20 369.30 343.70 369.30 344.20 369.30 344.70 369.30 345.20 369.30 345.70 369.30 346.20 369.30 346.70 369.30 347.20 369.30 347.70 369.30 348.20 369.30 348.70 369.30 349.20 369.30 349.70 369.30 350.20 369.30 350.70 369.30 351.20 369.30 351.70 369.30 352.20 369.30 352.70 369.30 353.20 369.30 353.70 369.30 354.20 369.30 354.70 369.30 355.20 369.30 355.70 369.30 356.20 369.30 356.70 369.30 357.20 369.30 357.70 369.30 358.20 369.30 358.70 369.30 359.20 369.30 359.70 369.30 360.20 369.30 360.70 369.30 361.20 369.30 361.70 369.30 362.20 369.30 362.70 369.30 363.20 369.30 363.70 369.30 364.20 369.30 364.70 369.30 365.20 369.30 365.70 369.30 366.20 369.30 366.70 369.30 367.20 369.30 367.70 369.30 368.20 369.30 368.70 369.30 369.20 369.30 369.70 369.30 370.20 369.30 370.70 369.30 371.20 369.30 371.70 369.30 372.20 369.30 372.70 369.30 373.20 369.30 373.70 369.30 374.20 369.30 374.70 369.30 375.20 369.30 375.70 369.30 376.20 369.30 376.70 369.30 377.20 369.30 377.70 369.30 378.20 369.30 378.70 369.30 379.20 369.30 379.70 369.30 380.20 369.30 380.70 369.30 381.20 369.30 381.70 369.30 382.20 369.30 382.70 369.30 383.20 369.30 383.70 369.30 384.20 369.30 384.70 369.30 385.20 369.30 385.70 369.30 386.20 369.30 386.70 369.30 387.20 369.30 387.70 369.30 388.20 369.30 388.70 369.30 389.20 369.30 389.70 369.30 390.20 369.30 390.70 369.30 391.20 369.30 391.70 369.30 392.20 369.30 392.70 369.30 393.20 369.30 393.70 369.30 394.20 369.30 394.50 369.30" stroke="#ff0000" stroke-width="1.3" fill="none" stroke-linejoin="round"/>
<path d="M62.30 76.85H394.50V486.10H62.30ZM228.50 76.85V486.10M62.30 213.45H394.50M62.30 349.75H394.50" fill="none" stroke="#000" stroke-width="1.3" stroke-linejoin="miter"/>
<path d="M62.30 211.85V162.00" stroke="#ff0000" stroke-width="1.3" opacity="0.22" fill="none"/>
<path d="M228.50 211.85V85.00" stroke="#ff0000" stroke-width="1.3" opacity="0.22" fill="none"/>
<path d="M62.30 348.15V281.70" stroke="#ff0000" stroke-width="1.3" opacity="0.22" fill="none"/>
<path d="M228.50 348.15V219.00" stroke="#ff0000" stroke-width="1.3" opacity="0.22" fill="none"/>
<path d="M62.30 484.50V363.90" stroke="#ff0000" stroke-width="1.3" opacity="0.22" fill="none"/>
<path d="M228.50 484.50V371.00" stroke="#ff0000" stroke-width="1.3" opacity="0.22" fill="none"/>
<path d="M62.95 145.35H227.85" stroke="#00ff00" stroke-width="1.4" stroke-dasharray="3.75 1.19" stroke-dashoffset="0.82" fill="none"/>
<path d="M229.15 145.35H393.85" stroke="#00ff00" stroke-width="1.4" stroke-dasharray="3.75 1.19" stroke-dashoffset="1.08" fill="none"/>
<path d="M62.95 281.80H227.85" stroke="#00ff00" stroke-width="1.4" stroke-dasharray="3.75 1.19" stroke-dashoffset="0.82" fill="none"/>
<path d="M229.15 281.80H393.85" stroke="#00ff00" stroke-width="1.4" stroke-dasharray="3.75 1.19" stroke-dashoffset="1.08" fill="none"/>
<path d="M62.95 418.12H227.85" stroke="#00ff00" stroke-width="1.4" stroke-dasharray="3.75 1.19" stroke-dashoffset="0.82" fill="none"/>
<path d="M229.15 418.12H393.85" stroke="#00ff00" stroke-width="1.4" stroke-dasharray="3.75 1.19" stroke-dashoffset="1.08" fill="none"/>
<path d="M62.30 211.85V208.40" stroke="#0000ff" stroke-width="1.3" stroke-dasharray="1.7 2.38" opacity="0.25" fill="none"/>
<path d="M228.50 211.85V131.00" stroke="#0000ff" stroke-width="1.3" stroke-dasharray="1.7 2.38" opacity="0.25" fill="none"/>
<path d="M62.30 348.15V304.80" stroke="#0000ff" stroke-width="1.3" stroke-dasharray="1.7 2.38" opacity="0.25" fill="none"/>
<path d="M228.50 348.15V241.40" stroke="#0000ff" stroke-width="1.3" stroke-dasharray="1.7 2.38" opacity="0.25" fill="none"/>
<path d="M62.30 484.50V385.30" stroke="#0000ff" stroke-width="1.3" stroke-dasharray="1.7 2.38" opacity="0.25" fill="none"/>
<path d="M228.50 484.50V392.30" stroke="#0000ff" stroke-width="1.3" stroke-dasharray="1.7 2.38" opacity="0.25" fill="none"/>
<filter id="tf" x="0" y="0" width="415" height="593" filterUnits="userSpaceOnUse"><feOffset dx="0" dy="0"/></filter><g filter="url(#tf)">
<path d="M151.6 89.70H184.5" stroke="#ff0000" stroke-width="1.3" fill="none"/>
<text x="144.4" y="93.60" text-anchor="end" font-size="11.53px">UV: 13.6eV</text>
<path d="M151.6 101.20H184.5" stroke="#0000ff" stroke-width="1.3" fill="none" stroke-dasharray="1.7 2.38"/>
<text x="144.4" y="105.10" text-anchor="end" font-size="11.53px">X−rays: 200eV</text>
<path d="M151.6 112.80H184.5" stroke="#00ff00" stroke-width="1.3" fill="none" stroke-dasharray="3.75 1.19"/>
<text x="144.4" y="116.70" text-anchor="end" font-size="11.53px">τ = 1</text>
<path d="M151.6 323.90H184.5" stroke="#ff0000" stroke-width="1.3" fill="none"/>
<text x="144.4" y="327.80" text-anchor="end" font-size="11.53px">UV: 24.5eV</text>
<path d="M151.6 335.50H184.5" stroke="#0000ff" stroke-width="1.3" fill="none" stroke-dasharray="1.7 2.38"/>
<text x="144.4" y="339.40" text-anchor="end" font-size="11.53px">X−rays: 200eV</text>
<path d="M151.6 460.40H184.5" stroke="#ff0000" stroke-width="1.3" fill="none"/>
<text x="144.4" y="464.30" text-anchor="end" font-size="11.53px">UV: 54.4eV</text>
<path d="M151.6 472.00H184.5" stroke="#0000ff" stroke-width="1.3" fill="none" stroke-dasharray="1.7 2.38"/>
<text x="144.4" y="475.90" text-anchor="end" font-size="11.53px">X−rays: 200eV</text>
<text x="145.40" y="63.8" text-anchor="middle">5 Myr</text>
<text x="311.00" y="63.8" text-anchor="middle">50 Myr</text>
<text x="55.0" y="203.49" text-anchor="end">−4</text>
<text x="55.0" y="176.17" text-anchor="end">−2</text>
<text x="55.0" y="148.85" text-anchor="end">0</text>
<text x="55.0" y="121.53" text-anchor="end">2</text>
<text x="55.0" y="94.21" text-anchor="end">4</text>
<text x="55.0" y="339.82" text-anchor="end">−4</text>
<text x="55.0" y="312.56" text-anchor="end">−2</text>
<text x="55.0" y="285.30" text-anchor="end">0</text>
<text x="55.0" y="258.04" text-anchor="end">2</text>
<text x="55.0" y="230.78" text-anchor="end">4</text>
<text x="55.0" y="476.17" text-anchor="end">−4</text>
<text x="55.0" y="448.89" text-anchor="end">−2</text>
<text x="55.0" y="421.62" text-anchor="end">0</text>
<text x="55.0" y="394.36" text-anchor="end">2</text>
<text x="55.0" y="367.08" text-anchor="end">4</text>
<text x="62.50" y="501.8" text-anchor="middle">0</text>
<text x="99.43" y="501.8" text-anchor="middle">0.2</text>
<text x="136.37" y="501.8" text-anchor="middle">0.4</text>
<text x="173.30" y="501.8" text-anchor="middle">0.6</text>
<text x="210.23" y="501.8" text-anchor="middle">0.8</text>
<text x="228.70" y="501.8" text-anchor="middle">0</text>
<text x="265.63" y="501.8" text-anchor="middle">0.2</text>
<text x="302.57" y="501.8" text-anchor="middle">0.4</text>
<text x="339.50" y="501.8" text-anchor="middle">0.6</text>
<text x="376.43" y="501.8" text-anchor="middle">0.8</text>
<text x="145.60" y="519.2" text-anchor="middle">Distance (comoving Mpc)</text>
<text x="311.70" y="519.2" text-anchor="middle">Distance (comoving Mpc)</text>
<text transform="translate(36.9 145.10) rotate(-90)" text-anchor="middle">log(τ<tspan dy="4.1" font-size="9.2px">H0</tspan><tspan dy="-4.1">)</tspan></text>
<text transform="translate(31.2 281.40) rotate(-90)" text-anchor="middle">log(τ<tspan dy="4.1" font-size="9.2px">He0</tspan><tspan dy="-4.1">)</tspan></text>
<text transform="translate(31.2 418.10) rotate(-90)" text-anchor="middle">log(τ<tspan dy="4.1" font-size="9.2px">He</tspan><tspan dy="-4.3" font-size="7.4px">+</tspan><tspan dy="0.2">)</tspan></text>
</g>
</svg>
</body></html>
